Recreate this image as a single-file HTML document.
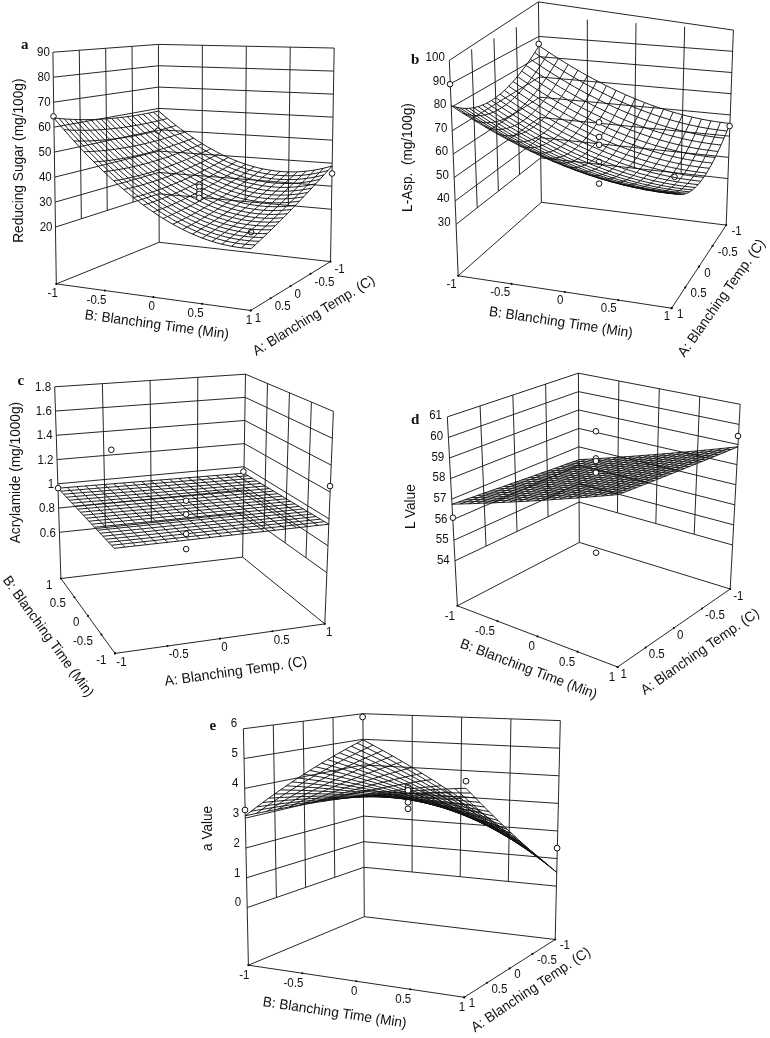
<!DOCTYPE html>
<html lang="en"><head><meta charset="utf-8"><title>Response surface plots</title>
<style>
html,body{margin:0;padding:0;background:#fff}
svg{display:block;will-change:transform}
.ln line,.ln polyline{stroke:#1a1a1a;stroke-width:.95;fill:none}
.ms polyline{stroke:#111;stroke-width:.95;fill:none}
.dt circle{fill:#111}
.pt circle{fill:#fff;stroke:#111;stroke-width:1}
text{font-family:"Liberation Sans",Arial,Helvetica,sans-serif;fill:#111}
.pn{font-family:"Liberation Serif","Times New Roman",serif;font-weight:bold;font-size:15px}
</style></head><body>
<svg width="770" height="1038" viewBox="0 0 770 1038">
<rect width="770" height="1038" fill="#fff"/>
<g id="plot-a">
<g class="ln"><line x1="56.3" y1="283.9" x2="52.9" y2="52.2"/><line x1="159.2" y1="242.3" x2="158.4" y2="44.4"/><line x1="330.5" y1="261.6" x2="334.2" y2="48.05"/><line x1="52.9" y1="52.2" x2="158.4" y2="44.4"/><line x1="158.4" y1="44.4" x2="334.2" y2="48.05"/><line x1="56.3" y1="283.9" x2="159.2" y2="242.3"/><line x1="159.2" y1="242.3" x2="330.5" y2="261.6"/><line x1="56.3" y1="283.9" x2="250.7" y2="310.5"/><line x1="250.7" y1="310.5" x2="330.5" y2="261.6"/><polyline points="55.47,227.1 159,193.79 331.41,209.25"/><polyline points="55.1,202.11 158.92,172.45 331.81,186.22"/><polyline points="54.73,177.13 158.83,151.1 332.21,163.19"/><polyline points="54.37,152.14 158.75,129.76 332.6,140.16"/><polyline points="54,127.16 158.66,108.42 333,117.14"/><polyline points="53.63,102.17 158.57,87.08 333.4,94.11"/><polyline points="53.27,77.19 158.49,65.74 333.8,71.08"/><line x1="81.35" y1="218.77" x2="79.28" y2="50.25"/><line x1="107.24" y1="210.44" x2="105.65" y2="48.3"/><line x1="133.12" y1="202.11" x2="132.03" y2="46.35"/><line x1="202.1" y1="197.65" x2="202.35" y2="45.31"/><line x1="245.21" y1="201.52" x2="246.3" y2="46.22"/><line x1="288.31" y1="205.38" x2="290.25" y2="47.14"/></g>
<g class="pt"><circle cx="53.5" cy="116.4" r="2.8"/><circle cx="158" cy="130.7" r="2.8"/><circle cx="332.1" cy="173.5" r="2.8"/><circle cx="251.1" cy="232.1" r="2.8"/></g>
<g class="ms"><polyline points="158.67,111.04 163.04,114.82 167.4,118.5 171.76,122.05 176.12,125.5 180.47,128.82 184.82,132.03 189.17,135.12 193.51,138.09 197.85,140.95 202.19,143.68 206.53,146.29 210.86,148.78 215.19,151.15 219.52,153.39 223.85,155.51 228.17,157.5 232.5,159.37 236.82,161.11 241.15,162.73 245.47,164.22 249.79,165.58 254.11,166.81 258.44,167.9 262.76,168.87 267.08,169.71 271.41,170.41 275.73,170.99 280.06,171.42 284.39,171.73 288.72,171.89 293.05,171.92 297.38,171.82 301.72,171.57 306.06,171.19 310.4,170.67 314.74,170.01 319.09,169.21 323.44,168.26 327.8,167.18 332.16,165.95"/><polyline points="158.67,111.04 156.05,111.6 153.44,112.15 150.82,112.68 148.21,113.2 145.59,113.7 142.98,114.17 140.36,114.63 137.75,115.08 135.13,115.5 132.51,115.9 129.9,116.29 127.28,116.65 124.66,116.99 122.05,117.32 119.43,117.62 116.81,117.91 114.19,118.17 111.58,118.41 108.96,118.63 106.34,118.83 103.72,119.01 101.1,119.16 98.48,119.29 95.86,119.41 93.24,119.49 90.62,119.56 88,119.6 85.37,119.62 82.75,119.62 80.13,119.59 77.51,119.54 74.88,119.46 72.26,119.36 69.63,119.23 67,119.08 64.38,118.91 61.75,118.71 59.12,118.48 56.49,118.23 53.86,117.95"/><polyline points="153.44,112.15 157.84,116.04 162.24,119.81 166.63,123.47 171.02,127.01 175.4,130.43 179.78,133.73 184.16,136.92 188.53,139.99 192.9,142.93 197.27,145.76 201.64,148.46 206,151.04 210.36,153.5 214.72,155.84 219.08,158.04 223.43,160.13 227.79,162.08 232.14,163.91 236.49,165.62 240.84,167.19 245.19,168.63 249.54,169.95 253.89,171.13 258.25,172.18 262.6,173.1 266.95,173.88 271.3,174.53 275.66,175.05 280.01,175.43 284.37,175.67 288.73,175.78 293.09,175.75 297.45,175.58 301.82,175.27 306.19,174.82 310.56,174.23 314.93,173.5 319.31,172.62 323.69,171.6 328.07,170.44"/><polyline points="167.4,118.5 164.82,119.16 162.24,119.81 159.65,120.44 157.07,121.06 154.49,121.65 151.9,122.23 149.32,122.79 146.74,123.34 144.15,123.86 141.57,124.37 138.98,124.86 136.4,125.32 133.82,125.77 131.23,126.2 128.65,126.61 126.06,127 123.48,127.37 120.89,127.72 118.31,128.04 115.72,128.35 113.13,128.63 110.55,128.9 107.96,129.14 105.37,129.36 102.79,129.56 100.2,129.73 97.61,129.89 95.02,130.02 92.43,130.12 89.84,130.21 87.25,130.27 84.66,130.3 82.07,130.31 79.48,130.3 76.89,130.27 74.3,130.2 71.7,130.12 69.11,130.01 66.51,129.87 63.92,129.71"/><polyline points="148.21,113.2 152.64,117.19 157.07,121.06 161.49,124.81 165.91,128.45 170.33,131.97 174.74,135.37 179.15,138.65 183.55,141.82 187.95,144.86 192.35,147.78 196.75,150.58 201.14,153.25 205.53,155.8 209.92,158.23 214.31,160.53 218.69,162.7 223.07,164.75 227.46,166.66 231.84,168.45 236.22,170.11 240.6,171.64 244.98,173.04 249.36,174.31 253.74,175.44 258.11,176.44 262.49,177.31 266.88,178.04 271.26,178.64 275.64,179.1 280.02,179.42 284.41,179.6 288.8,179.65 293.19,179.55 297.58,179.31 301.97,178.94 306.37,178.42 310.77,177.75 315.18,176.95 319.58,176 323.99,174.9"/><polyline points="176.12,125.5 173.57,126.26 171.02,127.01 168.47,127.74 165.91,128.45 163.36,129.15 160.81,129.83 158.26,130.49 155.71,131.13 153.15,131.76 150.6,132.36 148.05,132.95 145.5,133.52 142.95,134.08 140.39,134.61 137.84,135.12 135.29,135.62 132.74,136.09 130.18,136.54 127.63,136.98 125.08,137.39 122.52,137.78 119.97,138.15 117.42,138.5 114.86,138.83 112.31,139.14 109.75,139.42 107.2,139.68 104.64,139.92 102.09,140.14 99.53,140.33 96.97,140.5 94.42,140.65 91.86,140.78 89.3,140.88 86.74,140.95 84.18,141.01 81.62,141.03 79.06,141.04 76.5,141.01 73.94,140.97"/><polyline points="142.98,114.17 147.44,118.26 151.9,122.23 156.36,126.09 160.81,129.83 165.26,133.44 169.7,136.94 174.14,140.32 178.57,143.58 183.01,146.72 187.43,149.74 191.86,152.63 196.28,155.4 200.7,158.04 205.12,160.56 209.54,162.95 213.95,165.22 218.37,167.35 222.78,169.36 227.19,171.24 231.6,172.99 236,174.6 240.41,176.09 244.82,177.44 249.23,178.66 253.63,179.74 258.04,180.69 262.45,181.51 266.86,182.18 271.27,182.72 275.68,183.12 280.1,183.38 284.51,183.5 288.93,183.48 293.35,183.32 297.77,183.02 302.19,182.57 306.62,181.98 311.05,181.25 315.48,180.37 319.92,179.34"/><polyline points="184.82,132.03 182.3,132.89 179.78,133.73 177.26,134.56 174.74,135.37 172.22,136.17 169.7,136.94 167.18,137.71 164.66,138.45 162.14,139.17 159.62,139.88 157.1,140.57 154.58,141.25 152.06,141.9 149.54,142.53 147.02,143.15 144.5,143.75 141.98,144.32 139.45,144.88 136.93,145.42 134.41,145.94 131.89,146.44 129.37,146.91 126.85,147.37 124.33,147.8 121.8,148.22 119.28,148.61 116.76,148.98 114.24,149.33 111.71,149.66 109.19,149.96 106.67,150.24 104.14,150.5 101.62,150.74 99.09,150.95 96.57,151.14 94.04,151.3 91.51,151.44 88.99,151.56 86.46,151.65 83.93,151.72"/><polyline points="137.75,115.08 142.24,119.27 146.74,123.34 151.22,127.29 155.71,131.13 160.18,134.85 164.66,138.45 169.13,141.93 173.6,145.28 178.06,148.52 182.52,151.63 186.97,154.62 191.43,157.48 195.88,160.22 200.33,162.83 204.77,165.32 209.22,167.67 213.66,169.9 218.1,172 222.54,173.97 226.98,175.81 231.41,177.51 235.85,179.08 240.29,180.52 244.72,181.83 249.16,183 253.59,184.03 258.03,184.92 262.47,185.68 266.9,186.3 271.34,186.78 275.78,187.12 280.23,187.32 284.67,187.38 289.12,187.3 293.56,187.07 298.01,186.7 302.47,186.18 306.92,185.52 311.38,184.71 315.85,183.75"/><polyline points="193.51,138.09 191.02,139.05 188.53,139.99 186.04,140.91 183.55,141.82 181.06,142.71 178.57,143.58 176.08,144.44 173.6,145.28 171.11,146.11 168.62,146.92 166.13,147.71 163.64,148.48 161.15,149.23 158.66,149.97 156.17,150.69 153.68,151.39 151.19,152.07 148.71,152.73 146.22,153.37 143.73,153.99 141.24,154.59 138.75,155.18 136.26,155.74 133.77,156.28 131.28,156.8 128.79,157.3 126.3,157.78 123.81,158.23 121.32,158.67 118.83,159.08 116.33,159.47 113.84,159.84 111.35,160.19 108.86,160.51 106.37,160.81 103.87,161.08 101.38,161.34 98.89,161.57 96.39,161.77 93.9,161.95"/><polyline points="132.51,115.9 137.04,120.19 141.57,124.37 146.09,128.43 150.6,132.36 155.11,136.18 159.62,139.88 164.12,143.46 168.62,146.92 173.11,150.25 177.6,153.46 182.09,156.54 186.57,159.5 191.05,162.34 195.53,165.04 200.01,167.62 204.48,170.07 208.95,172.39 213.42,174.58 217.89,176.64 222.36,178.57 226.82,180.36 231.29,182.03 235.75,183.55 240.22,184.94 244.68,186.2 249.15,187.32 253.61,188.3 258.07,189.14 262.54,189.84 267.01,190.4 271.48,190.82 275.94,191.1 280.42,191.24 284.89,191.23 289.36,191.08 293.84,190.78 298.32,190.34 302.8,189.75 307.29,189.01 311.78,188.13"/><polyline points="202.19,143.68 199.73,144.73 197.27,145.76 194.81,146.78 192.35,147.78 189.89,148.77 187.43,149.74 184.98,150.69 182.52,151.63 180.06,152.55 177.6,153.46 175.14,154.35 172.68,155.22 170.23,156.07 167.77,156.91 165.31,157.73 162.85,158.53 160.4,159.31 157.94,160.07 155.48,160.82 153.02,161.54 150.56,162.25 148.11,162.93 145.65,163.6 143.19,164.25 140.73,164.87 138.27,165.48 135.82,166.06 133.36,166.63 130.9,167.17 128.44,167.69 125.98,168.19 123.52,168.66 121.06,169.12 118.6,169.55 116.14,169.96 113.68,170.35 111.22,170.71 108.76,171.05 106.3,171.37 103.83,171.66"/><polyline points="127.28,116.65 131.84,121.05 136.4,125.32 140.95,129.48 145.5,133.52 150.04,137.45 154.58,141.25 159.11,144.92 163.64,148.48 168.16,151.91 172.68,155.22 177.2,158.4 181.72,161.46 186.23,164.39 190.74,167.19 195.24,169.86 199.75,172.41 204.25,174.82 208.75,177.11 213.24,179.26 217.74,181.28 222.24,183.16 226.73,184.91 231.22,186.53 235.72,188.01 240.21,189.35 244.7,190.55 249.19,191.62 253.69,192.55 258.18,193.33 262.67,193.98 267.17,194.48 271.67,194.84 276.16,195.05 280.66,195.13 285.17,195.05 289.67,194.83 294.18,194.46 298.68,193.95 303.2,193.28 307.71,192.47"/><polyline points="210.86,148.78 208.43,149.92 206,151.04 203.57,152.15 201.14,153.25 198.71,154.33 196.28,155.4 193.86,156.45 191.43,157.48 189,158.5 186.57,159.5 184.14,160.49 181.72,161.46 179.29,162.41 176.86,163.35 174.44,164.26 172.01,165.16 169.58,166.05 167.15,166.91 164.73,167.76 162.3,168.58 159.87,169.39 157.45,170.18 155.02,170.95 152.59,171.7 150.17,172.43 147.74,173.14 145.31,173.83 142.89,174.5 140.46,175.15 138.03,175.77 135.6,176.38 133.18,176.96 130.75,177.53 128.32,178.07 125.89,178.59 123.46,179.08 121.04,179.55 118.61,180 116.18,180.43 113.75,180.84"/><polyline points="122.05,117.32 126.64,121.82 131.23,126.2 135.82,130.46 140.39,134.61 144.97,138.63 149.54,142.53 154.1,146.31 158.66,149.97 163.22,153.5 167.77,156.91 172.32,160.19 176.86,163.35 181.4,166.37 185.94,169.27 190.48,172.04 195.01,174.68 199.54,177.19 204.07,179.57 208.6,181.81 213.12,183.92 217.65,185.9 222.17,187.74 226.69,189.45 231.22,191.02 235.74,192.45 240.26,193.74 244.78,194.89 249.3,195.9 253.82,196.77 258.34,197.5 262.87,198.09 267.39,198.53 271.91,198.83 276.44,198.98 280.97,198.98 285.5,198.84 290.03,198.55 294.57,198.11 299.11,197.52 303.65,196.78"/><polyline points="219.52,153.39 217.12,154.62 214.72,155.84 212.32,157.04 209.92,158.23 207.52,159.4 205.12,160.56 202.72,161.7 200.33,162.83 197.93,163.95 195.53,165.04 193.13,166.13 190.74,167.19 188.34,168.24 185.94,169.27 183.55,170.29 181.15,171.29 178.75,172.27 176.36,173.23 173.96,174.18 171.57,175.1 169.17,176.01 166.77,176.9 164.38,177.78 161.98,178.63 159.59,179.46 157.19,180.27 154.79,181.07 152.4,181.84 150,182.6 147.61,183.33 145.21,184.04 142.81,184.73 140.42,185.4 138.02,186.05 135.63,186.67 133.23,187.28 130.83,187.86 128.43,188.42 126.04,188.96 123.64,189.47"/><polyline points="116.81,117.91 121.44,122.51 126.06,127 130.68,131.37 135.29,135.62 139.9,139.74 144.5,143.75 149.09,147.63 153.68,151.39 158.27,155.02 162.85,158.53 167.43,161.91 172.01,165.16 176.58,168.29 181.15,171.29 185.72,174.15 190.28,176.89 194.84,179.5 199.4,181.97 203.96,184.31 208.51,186.51 213.06,188.58 217.62,190.51 222.17,192.31 226.72,193.97 231.27,195.49 235.82,196.87 240.37,198.11 244.91,199.21 249.46,200.16 254.01,200.98 258.56,201.65 263.12,202.17 267.67,202.55 272.22,202.78 276.78,202.87 281.34,202.81 285.9,202.59 290.46,202.23 295.02,201.72 299.59,201.05"/><polyline points="228.17,157.5 225.8,158.82 223.43,160.13 221.06,161.42 218.69,162.7 216.32,163.96 213.95,165.22 211.58,166.45 209.22,167.67 206.85,168.88 204.48,170.07 202.11,171.25 199.75,172.41 197.38,173.55 195.01,174.68 192.65,175.8 190.28,176.89 187.91,177.97 185.55,179.03 183.18,180.08 180.82,181.1 178.45,182.11 176.09,183.1 173.72,184.07 171.35,185.03 168.99,185.96 166.62,186.88 164.26,187.77 161.89,188.65 159.53,189.51 157.16,190.34 154.8,191.16 152.43,191.96 150.07,192.73 147.7,193.49 145.34,194.22 142.97,194.93 140.61,195.62 138.24,196.29 135.88,196.93 133.51,197.55"/><polyline points="111.58,118.41 116.24,123.12 120.89,127.72 125.54,132.19 130.18,136.54 134.82,140.77 139.45,144.88 144.08,148.87 148.71,152.73 153.32,156.46 157.94,160.07 162.55,163.56 167.15,166.91 171.76,170.14 176.36,173.23 180.95,176.2 185.55,179.03 190.14,181.73 194.73,184.3 199.31,186.73 203.9,189.03 208.48,191.2 213.06,193.22 217.64,195.11 222.22,196.86 226.8,198.47 231.38,199.94 235.95,201.27 240.53,202.46 245.11,203.5 249.69,204.4 254.27,205.16 258.84,205.77 263.43,206.23 268.01,206.54 272.59,206.71 277.17,206.73 281.76,206.59 286.35,206.31 290.94,205.87 295.54,205.28"/><polyline points="236.82,161.11 234.48,162.52 232.14,163.91 229.8,165.3 227.46,166.66 225.12,168.02 222.78,169.36 220.44,170.69 218.1,172 215.76,173.3 213.42,174.58 211.08,175.85 208.75,177.11 206.41,178.35 204.07,179.57 201.74,180.78 199.4,181.97 197.06,183.14 194.73,184.3 192.39,185.44 190.06,186.57 187.72,187.67 185.39,188.76 183.05,189.83 180.72,190.89 178.38,191.92 176.05,192.94 173.71,193.94 171.38,194.92 169.04,195.88 166.71,196.82 164.37,197.73 162.04,198.63 159.71,199.51 157.37,200.37 155.04,201.21 152.7,202.03 150.37,202.82 148.03,203.6 145.7,204.35 143.36,205.08"/><polyline points="106.34,118.83 111.03,123.65 115.72,128.35 120.4,132.93 125.08,137.39 129.75,141.72 134.41,145.94 139.07,150.03 143.73,153.99 148.38,157.83 153.02,161.54 157.66,165.13 162.3,168.58 166.93,171.91 171.57,175.1 176.19,178.17 180.82,181.1 185.44,183.9 190.06,186.57 194.67,189.1 199.29,191.49 203.9,193.75 208.51,195.87 213.12,197.85 217.73,199.69 222.33,201.4 226.94,202.96 231.55,204.38 236.15,205.65 240.76,206.78 245.36,207.77 249.97,208.61 254.58,209.31 259.18,209.85 263.79,210.25 268.4,210.5 273.02,210.6 277.63,210.55 282.25,210.34 286.86,209.99 291.48,209.48"/><polyline points="245.47,164.22 243.15,165.71 240.84,167.19 238.53,168.66 236.22,170.11 233.91,171.56 231.6,172.99 229.29,174.4 226.98,175.81 224.67,177.2 222.36,178.57 220.05,179.93 217.74,181.28 215.43,182.61 213.12,183.92 210.82,185.23 208.51,186.51 206.2,187.78 203.9,189.03 201.59,190.27 199.29,191.49 196.98,192.7 194.68,193.88 192.37,195.05 190.07,196.2 187.76,197.34 185.46,198.45 183.15,199.55 180.85,200.63 178.54,201.69 176.24,202.73 173.94,203.75 171.63,204.76 169.33,205.74 167.02,206.7 164.72,207.64 162.42,208.56 160.11,209.47 157.81,210.35 155.5,211.2 153.2,212.04"/><polyline points="101.1,119.16 105.83,124.09 110.55,128.9 115.26,133.59 119.97,138.15 124.67,142.59 129.37,146.91 134.06,151.11 138.75,155.18 143.43,159.12 148.11,162.93 152.78,166.62 157.45,170.18 162.11,173.61 166.77,176.9 171.43,180.07 176.09,183.1 180.74,186 185.39,188.76 190.03,191.39 194.68,193.88 199.32,196.24 203.96,198.45 208.6,200.53 213.23,202.46 217.87,204.26 222.5,205.91 227.14,207.42 231.77,208.79 236.41,210.01 241.04,211.09 245.67,212.01 250.31,212.8 254.95,213.43 259.58,213.91 264.22,214.24 268.86,214.43 273.5,214.46 278.14,214.33 282.79,214.05 287.44,213.62"/><polyline points="254.11,166.81 251.83,168.38 249.54,169.95 247.26,171.5 244.98,173.04 242.69,174.57 240.41,176.09 238.13,177.59 235.85,179.08 233.57,180.56 231.29,182.03 229.01,183.48 226.73,184.91 224.45,186.33 222.17,187.74 219.89,189.14 217.62,190.51 215.34,191.88 213.06,193.22 210.79,194.55 208.51,195.87 206.23,197.17 203.96,198.45 201.68,199.72 199.41,200.97 197.13,202.2 194.86,203.41 192.58,204.61 190.31,205.79 188.03,206.95 185.76,208.09 183.49,209.21 181.21,210.31 178.94,211.4 176.66,212.46 174.39,213.51 172.12,214.53 169.84,215.54 167.57,216.52 165.3,217.48 163.02,218.42"/><polyline points="95.86,119.41 100.62,124.44 105.37,129.36 110.12,134.16 114.86,138.83 119.6,143.38 124.33,147.8 129.05,152.11 133.77,156.28 138.48,160.33 143.19,164.25 147.89,168.04 152.59,171.7 157.29,175.23 161.98,178.63 166.67,181.89 171.35,185.03 176.04,188.03 180.72,190.89 185.39,193.61 190.07,196.2 194.74,198.65 199.41,200.97 204.07,203.14 208.74,205.17 213.41,207.06 218.07,208.8 222.73,210.41 227.4,211.86 232.06,213.18 236.72,214.34 241.38,215.36 246.05,216.23 250.71,216.95 255.37,217.52 260.04,217.93 264.71,218.2 269.37,218.31 274.04,218.27 278.72,218.08 283.39,217.72"/><polyline points="262.76,168.87 260.5,170.53 258.25,172.18 255.99,173.82 253.74,175.44 251.48,177.06 249.23,178.66 246.97,180.25 244.72,181.83 242.47,183.39 240.22,184.94 237.97,186.48 235.72,188.01 233.47,189.52 231.22,191.02 228.97,192.5 226.72,193.97 224.47,195.42 222.22,196.86 219.97,198.29 217.73,199.69 215.48,201.09 213.23,202.46 210.99,203.83 208.74,205.17 206.49,206.5 204.25,207.81 202,209.1 199.76,210.38 197.51,211.63 195.27,212.87 193.03,214.1 190.78,215.3 188.54,216.48 186.29,217.65 184.05,218.79 181.81,219.92 179.56,221.03 177.32,222.11 175.08,223.18 172.83,224.23"/><polyline points="90.62,119.56 95.41,124.71 100.2,129.73 104.98,134.64 109.75,139.42 114.52,144.08 119.28,148.61 124.04,153.02 128.79,157.3 133.53,161.45 138.27,165.48 143.01,169.37 147.74,173.14 152.47,176.77 157.19,180.27 161.91,183.64 166.62,186.88 171.34,189.98 176.05,192.94 180.75,195.77 185.46,198.45 190.16,201 194.86,203.41 199.55,205.68 204.25,207.81 208.94,209.79 213.64,211.63 218.33,213.33 223.02,214.88 227.71,216.28 232.4,217.54 237.09,218.64 241.78,219.6 246.47,220.41 251.17,221.07 255.86,221.57 260.55,221.92 265.25,222.12 269.95,222.16 274.65,222.05 279.35,221.78"/><polyline points="271.41,170.41 269.18,172.15 266.95,173.88 264.72,175.6 262.49,177.31 260.27,179.01 258.04,180.69 255.82,182.37 253.59,184.03 251.37,185.68 249.15,187.32 246.92,188.94 244.7,190.55 242.48,192.15 240.26,193.74 238.04,195.31 235.82,196.87 233.6,198.41 231.38,199.94 229.16,201.46 226.94,202.96 224.72,204.44 222.5,205.91 220.29,207.37 218.07,208.8 215.85,210.23 213.64,211.63 211.42,213.02 209.2,214.39 206.99,215.75 204.77,217.08 202.56,218.4 200.34,219.7 198.13,220.99 195.92,222.25 193.7,223.5 191.49,224.72 189.27,225.93 187.06,227.12 184.85,228.29 182.63,229.43"/><polyline points="85.37,119.62 90.2,124.88 95.02,130.02 99.84,135.03 104.64,139.92 109.44,144.69 114.24,149.33 119.02,153.85 123.81,158.23 128.58,162.49 133.36,166.63 138.12,170.63 142.89,174.5 147.64,178.24 152.4,181.84 157.15,185.31 161.89,188.65 166.64,191.85 171.38,194.92 176.11,197.84 180.85,200.63 185.58,203.28 190.31,205.79 195.03,208.15 199.76,210.38 204.48,212.46 209.2,214.39 213.93,216.18 218.65,217.82 223.37,219.32 228.08,220.67 232.8,221.87 237.52,222.92 242.24,223.81 246.96,224.56 251.68,225.15 256.4,225.59 261.13,225.87 265.85,226 270.58,225.97 275.31,225.78"/><polyline points="280.06,171.42 277.86,173.24 275.66,175.05 273.46,176.85 271.26,178.64 269.06,180.41 266.86,182.18 264.66,183.94 262.47,185.68 260.27,187.42 258.07,189.14 255.88,190.85 253.69,192.55 251.49,194.23 249.3,195.9 247.11,197.56 244.91,199.21 242.72,200.84 240.53,202.46 238.34,204.06 236.15,205.65 233.96,207.23 231.77,208.79 229.58,210.33 227.4,211.86 225.21,213.38 223.02,214.88 220.83,216.36 218.65,217.82 216.46,219.27 214.27,220.71 212.09,222.12 209.9,223.52 207.72,224.9 205.53,226.26 203.35,227.61 201.16,228.93 198.98,230.24 196.79,231.53 194.61,232.79 192.43,234.04"/><polyline points="80.13,119.59 84.99,124.96 89.84,130.21 94.69,135.33 99.53,140.33 104.36,145.21 109.19,149.96 114.01,154.59 118.83,159.08 123.63,163.45 128.44,167.69 133.24,171.8 138.03,175.77 142.82,179.62 147.61,183.33 152.39,186.9 157.16,190.34 161.94,193.65 166.71,196.82 171.48,199.84 176.24,202.73 181,205.48 185.76,208.09 190.52,210.55 195.27,212.87 200.02,215.05 204.77,217.08 209.52,218.97 214.27,220.71 219.02,222.3 223.77,223.74 228.52,225.03 233.26,226.17 238.01,227.16 242.76,227.99 247.51,228.67 252.26,229.2 257.01,229.57 261.76,229.78 266.51,229.83 271.27,229.73"/><polyline points="288.72,171.89 286.54,173.79 284.37,175.67 282.2,177.55 280.02,179.42 277.85,181.27 275.68,183.12 273.51,184.96 271.34,186.78 269.18,188.6 267.01,190.4 264.84,192.2 262.67,193.98 260.51,195.75 258.34,197.5 256.18,199.25 254.01,200.98 251.85,202.7 249.69,204.4 247.52,206.09 245.36,207.77 243.2,209.44 241.04,211.09 238.88,212.72 236.72,214.34 234.56,215.95 232.4,217.54 230.24,219.11 228.08,220.67 225.93,222.21 223.77,223.74 221.61,225.25 219.46,226.74 217.3,228.22 215.14,229.67 212.99,231.11 210.83,232.54 208.68,233.94 206.52,235.33 204.37,236.69 202.21,238.04"/><polyline points="74.88,119.46 79.78,124.94 84.66,130.3 89.54,135.54 94.42,140.65 99.28,145.64 104.14,150.5 108.99,155.24 113.84,159.84 118.68,164.32 123.52,168.66 128.35,172.88 133.18,176.96 138,180.91 142.81,184.73 147.63,188.41 152.43,191.96 157.24,195.36 162.04,198.63 166.84,201.77 171.63,204.76 176.42,207.61 181.21,210.31 186,212.88 190.78,215.3 195.56,217.57 200.34,219.7 205.12,221.69 209.9,223.52 214.68,225.2 219.46,226.74 224.23,228.12 229.01,229.36 233.78,230.44 238.56,231.36 243.33,232.13 248.11,232.75 252.89,233.2 257.67,233.5 262.45,233.64 267.23,233.62"/><polyline points="297.38,171.82 295.24,173.79 293.09,175.75 290.94,177.7 288.8,179.65 286.65,181.58 284.51,183.5 282.37,185.42 280.23,187.32 278.08,189.22 275.94,191.1 273.8,192.98 271.67,194.84 269.53,196.69 267.39,198.53 265.25,200.36 263.12,202.17 260.98,203.97 258.84,205.77 256.71,207.54 254.58,209.31 252.44,211.06 250.31,212.8 248.18,214.52 246.05,216.23 243.91,217.92 241.78,219.6 239.65,221.27 237.52,222.92 235.39,224.55 233.26,226.17 231.14,227.77 229.01,229.36 226.88,230.93 224.75,232.48 222.62,234.01 220.5,235.53 218.37,237.03 216.24,238.51 214.12,239.98 211.99,241.42"/><polyline points="69.63,119.23 74.56,124.83 79.48,130.3 84.39,135.65 89.3,140.88 94.2,145.98 99.09,150.95 103.98,155.79 108.86,160.51 113.73,165.1 118.6,169.55 123.46,173.88 128.32,178.07 133.17,182.13 138.02,186.05 142.87,189.84 147.7,193.49 152.54,197 157.37,200.37 162.2,203.61 167.02,206.7 171.85,209.65 176.66,212.46 181.48,215.13 186.29,217.65 191.11,220.02 195.92,222.25 200.72,224.33 205.53,226.26 210.34,228.04 215.14,229.67 219.95,231.15 224.75,232.48 229.56,233.65 234.36,234.67 239.16,235.53 243.97,236.23 248.78,236.78 253.58,237.17 258.39,237.39 263.2,237.46"/><polyline points="306.06,171.19 303.94,173.23 301.82,175.27 299.7,177.3 297.58,179.31 295.46,181.32 293.35,183.32 291.23,185.32 289.12,187.3 287,189.27 284.89,191.23 282.78,193.18 280.66,195.13 278.55,197.06 276.44,198.98 274.33,200.89 272.22,202.78 270.11,204.67 268.01,206.54 265.9,208.4 263.79,210.25 261.69,212.09 259.58,213.91 257.48,215.72 255.37,217.52 253.27,219.3 251.17,221.07 249.06,222.82 246.96,224.56 244.86,226.28 242.76,227.99 240.66,229.68 238.56,231.36 236.46,233.02 234.36,234.67 232.26,236.3 230.16,237.91 228.06,239.5 225.97,241.08 223.87,242.64 221.77,244.18"/><polyline points="64.38,118.91 69.34,124.62 74.3,130.2 79.24,135.67 84.18,141.01 89.11,146.22 94.04,151.3 98.96,156.26 103.87,161.08 108.78,165.78 113.68,170.35 118.57,174.78 123.46,179.08 128.35,183.25 133.23,187.28 138.1,191.17 142.97,194.93 147.84,198.55 152.7,202.03 157.56,205.37 162.42,208.56 167.27,211.62 172.12,214.53 176.96,217.3 181.81,219.92 186.65,222.4 191.49,224.72 196.33,226.9 201.16,228.93 206,230.81 210.83,232.54 215.66,234.11 220.5,235.53 225.33,236.8 230.16,237.91 234.99,238.86 239.83,239.66 244.66,240.29 249.5,240.77 254.33,241.08 259.17,241.24"/><polyline points="314.74,170.01 312.65,172.12 310.56,174.23 308.46,176.33 306.37,178.42 304.28,180.5 302.19,182.57 300.1,184.64 298.01,186.7 295.93,188.74 293.84,190.78 291.75,192.81 289.67,194.83 287.59,196.84 285.5,198.84 283.42,200.83 281.34,202.81 279.26,204.77 277.17,206.73 275.09,208.67 273.02,210.6 270.94,212.52 268.86,214.43 266.78,216.32 264.71,218.2 262.63,220.07 260.55,221.92 258.48,223.76 256.4,225.59 254.33,227.4 252.26,229.2 250.18,230.98 248.11,232.75 246.04,234.5 243.97,236.23 241.9,237.95 239.83,239.66 237.76,241.34 235.69,243.01 233.62,244.67 231.55,246.3"/><polyline points="59.12,118.48 64.12,124.31 69.11,130.01 74.09,135.58 79.06,141.04 84.03,146.36 88.99,151.56 93.94,156.63 98.89,161.57 103.82,166.37 108.76,171.05 113.68,175.59 118.61,180 123.52,184.28 128.43,188.42 133.34,192.42 138.24,196.29 143.14,200.01 148.03,203.6 152.92,207.04 157.81,210.35 162.69,213.5 167.57,216.52 172.45,219.39 177.32,222.11 182.19,224.69 187.06,227.12 191.93,229.4 196.79,231.53 201.66,233.5 206.52,235.33 211.38,237 216.24,238.51 221.11,239.87 225.97,241.08 230.83,242.13 235.69,243.01 240.55,243.74 245.41,244.31 250.28,244.71 255.14,244.96"/><polyline points="323.44,168.26 321.38,170.45 319.31,172.62 317.24,174.79 315.18,176.95 313.11,179.1 311.05,181.25 308.99,183.39 306.92,185.52 304.86,187.64 302.8,189.75 300.74,191.85 298.68,193.95 296.63,196.03 294.57,198.11 292.51,200.18 290.46,202.23 288.4,204.28 286.35,206.31 284.3,208.33 282.25,210.34 280.19,212.34 278.14,214.33 276.09,216.31 274.04,218.27 271.99,220.22 269.95,222.16 267.9,224.09 265.85,226 263.81,227.89 261.76,229.78 259.71,231.65 257.67,233.5 255.63,235.34 253.58,237.17 251.54,238.98 249.5,240.77 247.45,242.55 245.41,244.31 243.37,246.05 241.33,247.78"/><polyline points="53.86,117.95 58.9,123.89 63.92,129.71 68.93,135.4 73.94,140.97 78.94,146.41 83.93,151.72 88.92,156.9 93.9,161.95 98.87,166.87 103.83,171.66 108.79,176.31 113.75,180.84 118.7,185.22 123.64,189.47 128.58,193.58 133.51,197.55 138.44,201.39 143.36,205.08 148.28,208.63 153.2,212.04 158.11,215.3 163.02,218.42 167.93,221.4 172.83,224.23 177.74,226.9 182.63,229.43 187.53,231.81 192.43,234.04 197.32,236.12 202.21,238.04 207.1,239.81 211.99,241.42 216.88,242.88 221.77,244.18 226.66,245.32 231.55,246.3 236.44,247.12 241.33,247.78 246.22,248.28 251.11,248.61"/><polyline points="332.16,165.95 330.11,168.2 328.07,170.44 326.03,172.67 323.99,174.9 321.95,177.12 319.92,179.34 317.88,181.55 315.85,183.75 313.81,185.94 311.78,188.13 309.74,190.3 307.71,192.47 305.68,194.63 303.65,196.78 301.62,198.92 299.59,201.05 297.56,203.17 295.54,205.28 293.51,207.39 291.48,209.48 289.46,211.55 287.44,213.62 285.41,215.68 283.39,217.72 281.37,219.76 279.35,221.78 277.33,223.78 275.31,225.78 273.29,227.76 271.27,229.73 269.25,231.68 267.23,233.62 265.22,235.55 263.2,237.46 261.18,239.36 259.17,241.24 257.15,243.11 255.14,244.96 253.13,246.79 251.11,248.61"/></g>
<g class="dt"><circle cx="56.3" cy="283.9" r="1.1"/><circle cx="330.5" cy="261.6" r="1.1"/><circle cx="104.9" cy="290.55" r="1.1"/><circle cx="310.55" cy="273.83" r="1.1"/><circle cx="153.5" cy="297.2" r="1.1"/><circle cx="290.6" cy="286.05" r="1.1"/><circle cx="202.1" cy="303.85" r="1.1"/><circle cx="270.65" cy="298.27" r="1.1"/><circle cx="250.7" cy="310.5" r="1.1"/><circle cx="250.7" cy="310.5" r="1.1"/></g>
<g class="pt"><circle cx="199.3" cy="184.6" r="2.8"/><circle cx="199.3" cy="186.8" r="2.8"/><circle cx="199.3" cy="191.5" r="2.8"/><circle cx="199.3" cy="194" r="2.8"/><circle cx="199.3" cy="197.8" r="2.8"/></g>
<g class="tk" font-size="11.3"><text transform="translate(49.9 56.47) scale(1.02 1.05)" text-anchor="end">90</text><text transform="translate(50.27 81.47) scale(1.02 1.05)" text-anchor="end">80</text><text transform="translate(50.63 106.47) scale(1.02 1.05)" text-anchor="end">70</text><text transform="translate(51 131.47) scale(1.02 1.05)" text-anchor="end">60</text><text transform="translate(51.37 156.47) scale(1.02 1.05)" text-anchor="end">50</text><text transform="translate(51.73 181.47) scale(1.02 1.05)" text-anchor="end">40</text><text transform="translate(52.1 206.47) scale(1.02 1.05)" text-anchor="end">30</text><text transform="translate(52.47 231.47) scale(1.02 1.05)" text-anchor="end">20</text><text transform="translate(57.8 297.17) scale(1.02 1.05)" text-anchor="end">-1</text><text transform="translate(334.5 273.47) scale(1.02 1.05)" text-anchor="start">-1</text><text transform="translate(106.4 303.82) scale(1.02 1.05)" text-anchor="end">-0.5</text><text transform="translate(314.55 285.7) scale(1.02 1.05)" text-anchor="start">-0.5</text><text transform="translate(155 310.47) scale(1.02 1.05)" text-anchor="end">0</text><text transform="translate(294.6 297.92) scale(1.02 1.05)" text-anchor="start">0</text><text transform="translate(203.6 317.12) scale(1.02 1.05)" text-anchor="end">0.5</text><text transform="translate(274.65 310.15) scale(1.02 1.05)" text-anchor="start">0.5</text><text transform="translate(252.2 323.77) scale(1.02 1.05)" text-anchor="end">1</text><text transform="translate(254.7 322.37) scale(1.02 1.05)" text-anchor="start">1</text></g>
<g class="tt"><text transform="translate(22.8 160.7) rotate(-90) scale(1 1.03)" text-anchor="middle" font-size="13.7">Reducing Sugar (mg/100g)</text><text transform="translate(156.25 328.85) rotate(7.84) scale(1 1.03)" text-anchor="middle" font-size="13.7">B: Blanching Time (Min)</text><text transform="translate(316 319.2) rotate(-31.5) scale(1 1.03)" text-anchor="middle" font-size="13.7">A: Blanching Temp. (C)</text></g>
<text class="pn" x="21" y="49.3">a</text>
</g>
<g id="plot-b">
<g class="ln"><line x1="458.2" y1="275.8" x2="449.3" y2="60.4"/><line x1="541.35" y1="202.3" x2="538.4" y2="1.9"/><line x1="726.2" y1="225.1" x2="733.4" y2="30.1"/><line x1="449.3" y1="60.4" x2="538.4" y2="1.9"/><line x1="538.4" y1="1.9" x2="733.4" y2="30.1"/><line x1="458.2" y1="275.8" x2="541.35" y2="202.3"/><line x1="541.35" y1="202.3" x2="726.2" y2="225.1"/><line x1="458.2" y1="275.8" x2="671.6" y2="308.2"/><line x1="671.6" y1="308.2" x2="726.2" y2="225.1"/><polyline points="456.08,224.4 540.69,157.89 727.92,178.57"/><polyline points="455.11,200.97 540.39,137.65 728.7,157.36"/><polyline points="454.14,177.54 540.1,117.41 729.48,136.15"/><polyline points="453.17,154.11 539.8,97.17 730.27,114.94"/><polyline points="452.2,130.69 539.5,76.93 731.05,93.73"/><polyline points="451.24,107.26 539.2,56.68 731.83,72.52"/><polyline points="450.27,83.83 538.9,36.44 732.62,51.31"/><line x1="477.23" y1="207.77" x2="471.62" y2="49.35"/><line x1="498.39" y1="191.15" x2="493.95" y2="38.3"/><line x1="519.54" y1="174.52" x2="516.28" y2="27.25"/><line x1="587.5" y1="163.06" x2="587.3" y2="19.67"/><line x1="634.31" y1="168.23" x2="636" y2="23.15"/><line x1="681.11" y1="173.4" x2="684.7" y2="26.62"/></g>
<g class="pt"><circle cx="674.5" cy="176.8" r="2.8"/><circle cx="599.1" cy="161.8" r="2.8"/></g>
<g class="ms"><polyline points="539.04,45.75 543.91,49.05 548.77,52.28 553.62,55.44 558.46,58.54 563.3,61.56 568.13,64.53 572.95,67.42 577.77,70.25 582.58,73.01 587.38,75.7 592.17,78.32 596.96,80.87 601.75,83.36 606.53,85.77 611.3,88.12 616.07,90.4 620.84,92.6 625.6,94.74 630.36,96.8 635.12,98.8 639.87,100.72 644.62,102.57 649.36,104.36 654.11,106.06 658.85,107.7 663.59,109.27 668.33,110.76 673.07,112.18 677.81,113.52 682.54,114.79 687.28,115.99 692.02,117.12 696.76,118.17 701.49,119.14 706.23,120.05 710.97,120.87 715.72,121.62 720.46,122.3 725.21,122.9 729.95,123.42"/><polyline points="539.04,45.75 536.86,49.23 534.69,52.63 532.52,55.94 530.36,59.15 528.19,62.28 526.02,65.32 523.86,68.26 521.7,71.12 519.53,73.87 517.37,76.53 515.2,79.1 513.04,81.56 510.87,83.92 508.71,86.19 506.54,88.35 504.37,90.41 502.2,92.36 500.02,94.21 497.85,95.95 495.67,97.58 493.49,99.11 491.3,100.52 489.12,101.82 486.93,103 484.73,104.08 482.53,105.03 480.33,105.88 478.12,106.6 475.91,107.2 473.69,107.68 471.47,108.04 469.24,108.28 467,108.4 464.76,108.39 462.51,108.25 460.26,107.98 458,107.59 455.73,107.06 453.45,106.41 451.17,105.62"/><polyline points="534.69,52.63 539.6,55.95 544.49,59.21 549.38,62.4 554.26,65.52 559.13,68.57 564,71.56 568.86,74.48 573.71,77.33 578.55,80.12 583.39,82.83 588.22,85.48 593.04,88.05 597.86,90.56 602.67,92.99 607.48,95.36 612.29,97.66 617.09,99.88 621.88,102.04 626.67,104.12 631.46,106.14 636.25,108.08 641.03,109.95 645.81,111.74 650.59,113.47 655.36,115.12 660.14,116.7 664.91,118.2 669.68,119.64 674.45,120.99 679.22,122.28 683.99,123.49 688.76,124.63 693.53,125.69 698.3,126.67 703.07,127.58 707.84,128.42 712.61,129.18 717.39,129.86 722.17,130.47 726.95,130.99"/><polyline points="548.77,52.28 546.63,55.79 544.49,59.21 542.36,62.54 540.23,65.79 538.1,68.94 535.97,72.01 533.84,74.98 531.72,77.85 529.59,80.64 527.46,83.32 525.34,85.91 523.21,88.4 521.08,90.79 518.96,93.08 516.83,95.26 514.7,97.34 512.57,99.32 510.43,101.19 508.3,102.96 506.16,104.61 504.02,106.15 501.87,107.59 499.73,108.91 497.58,110.12 495.43,111.21 493.27,112.19 491.11,113.05 488.94,113.79 486.77,114.41 484.6,114.91 482.42,115.29 480.23,115.55 478.04,115.68 475.84,115.68 473.64,115.56 471.43,115.31 469.21,114.93 466.99,114.42 464.76,113.78 462.52,113.01"/><polyline points="530.36,59.15 535.3,62.5 540.23,65.79 545.15,69 550.07,72.15 554.98,75.23 559.88,78.24 564.77,81.19 569.65,84.06 574.53,86.87 579.41,89.61 584.27,92.28 589.13,94.87 593.98,97.4 598.83,99.86 603.68,102.25 608.51,104.56 613.35,106.81 618.18,108.98 623,111.08 627.83,113.11 632.64,115.07 637.46,116.96 642.27,118.77 647.08,120.51 651.89,122.18 656.7,123.77 661.5,125.29 666.31,126.73 671.11,128.1 675.91,129.4 680.72,130.62 685.52,131.77 690.32,132.84 695.12,133.83 699.93,134.75 704.73,135.59 709.54,136.36 714.34,137.05 719.15,137.66 723.97,138.2"/><polyline points="558.46,58.54 556.36,62.07 554.26,65.52 552.17,68.88 550.07,72.15 547.98,75.33 545.88,78.42 543.79,81.42 541.7,84.32 539.61,87.13 537.53,89.84 535.44,92.45 533.35,94.96 531.26,97.38 529.17,99.69 527.08,101.9 524.99,104 522.9,106 520.8,107.89 518.71,109.68 516.61,111.35 514.51,112.92 512.4,114.37 510.3,115.71 508.19,116.94 506.08,118.05 503.96,119.05 501.84,119.93 499.72,120.69 497.59,121.33 495.46,121.85 493.32,122.24 491.18,122.52 489.03,122.66 486.88,122.69 484.72,122.58 482.56,122.34 480.39,121.98 478.21,121.48 476.03,120.85 473.84,120.09"/><polyline points="526.02,65.32 531,68.7 535.97,72.01 540.93,75.25 545.88,78.42 550.83,81.53 555.76,84.56 560.69,87.53 565.61,90.43 570.53,93.26 575.43,96.02 580.33,98.71 585.23,101.33 590.12,103.88 595,106.36 599.88,108.76 604.75,111.1 609.62,113.36 614.49,115.55 619.35,117.67 624.2,119.72 629.06,121.69 633.91,123.6 638.75,125.42 643.6,127.18 648.44,128.86 653.28,130.47 658.12,132 662.96,133.45 667.79,134.84 672.63,136.14 677.46,137.38 682.3,138.53 687.13,139.61 691.97,140.62 696.8,141.54 701.64,142.39 706.48,143.17 711.32,143.86 716.16,144.48 721.01,145.02"/><polyline points="568.13,64.53 566.06,68.09 564,71.56 561.94,74.95 559.88,78.24 557.82,81.45 555.76,84.56 553.71,87.59 551.66,90.51 549.6,93.34 547.55,96.08 545.5,98.71 543.45,101.25 541.4,103.68 539.35,106.02 537.3,108.25 535.24,110.37 533.19,112.39 531.13,114.31 529.08,116.11 527.02,117.81 524.96,119.39 522.9,120.87 520.83,122.23 518.76,123.48 516.69,124.61 514.62,125.62 512.54,126.52 510.46,127.29 508.38,127.95 506.29,128.49 504.19,128.9 502.09,129.19 499.99,129.35 497.88,129.38 495.77,129.29 493.65,129.07 491.52,128.72 489.39,128.24 487.25,127.62 485.1,126.87"/><polyline points="521.7,71.12 526.71,74.52 531.72,77.85 536.71,81.12 541.7,84.32 546.68,87.45 551.66,90.51 556.62,93.5 561.58,96.42 566.53,99.28 571.47,102.06 576.41,104.77 581.34,107.41 586.26,109.98 591.18,112.47 596.09,114.9 601,117.25 605.91,119.54 610.81,121.75 615.7,123.88 620.59,125.95 625.48,127.94 630.36,129.85 635.25,131.7 640.12,133.46 645,135.16 649.88,136.78 654.75,138.32 659.62,139.79 664.49,141.19 669.36,142.5 674.23,143.75 679.1,144.91 683.97,146 688.83,147.01 693.7,147.95 698.57,148.8 703.45,149.58 708.32,150.28 713.19,150.91 718.07,151.45"/><polyline points="577.77,70.25 575.74,73.83 573.71,77.33 571.68,80.74 569.65,84.06 567.63,87.29 565.61,90.43 563.59,93.47 561.58,96.42 559.56,99.28 557.55,102.03 555.53,104.69 553.52,107.25 551.51,109.71 549.49,112.06 547.48,114.31 545.46,116.46 543.45,118.5 541.43,120.43 539.42,122.26 537.4,123.97 535.38,125.58 533.36,127.07 531.33,128.45 529.3,129.71 527.27,130.86 525.24,131.89 523.2,132.81 521.17,133.6 519.12,134.27 517.08,134.82 515.02,135.25 512.97,135.55 510.91,135.73 508.84,135.78 506.77,135.7 504.7,135.49 502.61,135.15 500.53,134.68 498.43,134.08 496.33,133.34"/><polyline points="517.37,76.53 522.42,79.96 527.46,83.32 532.5,86.61 537.53,89.84 542.54,92.99 547.55,96.08 552.55,99.09 557.55,102.03 562.53,104.91 567.51,107.71 572.49,110.44 577.45,113.1 582.41,115.69 587.37,118.21 592.32,120.65 597.26,123.02 602.2,125.32 607.14,127.55 612.07,129.7 616.99,131.78 621.91,133.79 626.83,135.72 631.75,137.58 636.66,139.36 641.58,141.07 646.48,142.7 651.39,144.25 656.3,145.74 661.2,147.14 666.11,148.47 671.01,149.72 675.91,150.89 680.81,151.99 685.72,153.01 690.62,153.95 695.52,154.81 700.43,155.6 705.34,156.3 710.25,156.93 715.16,157.48"/><polyline points="587.38,75.7 585.38,79.31 583.39,82.83 581.39,86.26 579.41,89.61 577.42,92.86 575.43,96.02 573.45,99.09 571.47,102.06 569.49,104.93 567.51,107.71 565.54,110.39 563.56,112.97 561.58,115.44 559.61,117.82 557.63,120.09 555.66,122.26 553.68,124.32 551.7,126.27 549.72,128.11 547.74,129.85 545.76,131.47 543.78,132.98 541.8,134.38 539.81,135.66 537.82,136.82 535.83,137.87 533.83,138.8 531.84,139.61 529.83,140.29 527.83,140.86 525.82,141.3 523.81,141.62 521.79,141.81 519.77,141.87 517.74,141.8 515.71,141.61 513.67,141.28 511.63,140.82 509.58,140.22 507.53,139.49"/><polyline points="513.04,81.56 518.13,85.01 523.21,88.4 528.28,91.72 533.35,94.96 538.4,98.14 543.45,101.25 548.49,104.28 553.52,107.25 558.54,110.14 563.56,112.97 568.57,115.72 573.57,118.4 578.57,121.01 583.56,123.54 588.55,126.01 593.53,128.39 598.5,130.71 603.47,132.95 608.44,135.12 613.4,137.22 618.36,139.24 623.31,141.18 628.27,143.05 633.22,144.85 638.16,146.57 643.11,148.21 648.05,149.78 652.99,151.27 657.93,152.69 662.87,154.02 667.8,155.28 672.74,156.47 677.68,157.57 682.62,158.6 687.55,159.54 692.49,160.41 697.43,161.2 702.37,161.91 707.32,162.54 712.26,163.1"/><polyline points="596.96,80.87 595,84.51 593.04,88.05 591.08,91.51 589.13,94.87 587.18,98.15 585.23,101.33 583.28,104.42 581.34,107.41 579.39,110.3 577.45,113.1 575.51,115.8 573.57,118.4 571.63,120.9 569.7,123.29 567.76,125.58 565.82,127.77 563.88,129.84 561.94,131.81 560,133.68 558.06,135.43 556.12,137.07 554.18,138.59 552.23,140 550.29,141.3 548.34,142.48 546.39,143.54 544.43,144.49 542.48,145.31 540.52,146.01 538.55,146.59 536.59,147.04 534.62,147.37 532.64,147.57 530.66,147.65 528.68,147.59 526.69,147.41 524.7,147.09 522.7,146.64 520.7,146.05 518.69,145.33"/><polyline points="508.71,86.19 513.84,89.67 518.96,93.08 524.07,96.42 529.17,99.69 534.26,102.89 539.35,106.02 544.42,109.07 549.49,112.06 554.55,114.98 559.61,117.82 564.65,120.59 569.7,123.29 574.73,125.92 579.76,128.47 584.78,130.95 589.8,133.36 594.81,135.69 599.82,137.95 604.82,140.13 609.82,142.24 614.81,144.28 619.8,146.24 624.79,148.12 629.78,149.93 634.76,151.66 639.74,153.31 644.72,154.89 649.69,156.39 654.67,157.82 659.64,159.16 664.61,160.43 669.59,161.62 674.56,162.73 679.53,163.77 684.5,164.72 689.48,165.59 694.45,166.39 699.43,167.1 704.4,167.74 709.38,168.29"/><polyline points="606.53,85.77 604.6,89.43 602.67,92.99 600.75,96.47 598.83,99.86 596.92,103.15 595,106.36 593.09,109.46 591.18,112.47 589.27,115.39 587.37,118.21 585.46,120.93 583.56,123.54 581.66,126.06 579.76,128.47 577.86,130.78 575.96,132.98 574.06,135.08 572.16,137.06 570.25,138.94 568.35,140.71 566.45,142.36 564.55,143.9 562.64,145.33 560.73,146.64 558.83,147.84 556.91,148.91 555,149.87 553.09,150.71 551.17,151.42 549.25,152.01 547.32,152.48 545.39,152.82 543.46,153.03 541.53,153.11 539.59,153.07 537.64,152.89 535.69,152.58 533.74,152.14 531.78,151.57 529.81,150.85"/><polyline points="504.37,90.41 509.54,93.91 514.7,97.34 519.85,100.71 524.99,104 530.12,107.22 535.24,110.37 540.36,113.45 545.46,116.46 550.56,119.39 555.66,122.26 560.74,125.05 565.82,127.77 570.89,130.41 575.96,132.98 581.02,135.48 586.07,137.9 591.12,140.25 596.16,142.52 601.2,144.72 606.24,146.85 611.27,148.89 616.3,150.87 621.32,152.76 626.34,154.58 631.36,156.32 636.38,157.99 641.39,159.58 646.4,161.09 651.41,162.52 656.42,163.87 661.43,165.15 666.44,166.35 671.45,167.46 676.46,168.5 681.46,169.46 686.47,170.34 691.48,171.14 696.49,171.86 701.5,172.49 706.52,173.05"/><polyline points="616.07,90.4 614.18,94.07 612.29,97.66 610.4,101.16 608.51,104.56 606.63,107.88 604.75,111.1 602.88,114.22 601,117.25 599.13,120.19 597.26,123.02 595.39,125.76 593.53,128.39 591.66,130.93 589.8,133.36 587.93,135.68 586.07,137.9 584.21,140.01 582.34,142.01 580.48,143.91 578.62,145.69 576.75,147.36 574.89,148.92 573.02,150.36 571.16,151.68 569.29,152.89 567.42,153.98 565.55,154.95 563.67,155.8 561.79,156.52 559.91,157.12 558.03,157.6 556.14,157.95 554.25,158.17 552.36,158.27 550.46,158.23 548.56,158.06 546.66,157.76 544.75,157.33 542.83,156.76 540.91,156.05"/><polyline points="500.02,94.21 505.23,97.74 510.43,101.19 515.62,104.58 520.8,107.89 525.97,111.13 531.13,114.31 536.29,117.41 541.43,120.43 546.57,123.39 551.7,126.27 556.83,129.08 561.94,131.81 567.05,134.48 572.16,137.06 577.25,139.58 582.34,142.01 587.43,144.38 592.51,146.67 597.59,148.88 602.66,151.02 607.73,153.08 612.8,155.06 617.86,156.97 622.92,158.8 627.97,160.55 633.02,162.23 638.07,163.83 643.12,165.35 648.17,166.79 653.22,168.15 658.26,169.43 663.3,170.63 668.35,171.76 673.39,172.8 678.44,173.76 683.48,174.64 688.53,175.45 693.57,176.17 698.62,176.8 703.67,177.36"/><polyline points="625.6,94.74 623.74,98.43 621.88,102.04 620.03,105.56 618.18,108.98 616.33,112.31 614.49,115.55 612.64,118.7 610.81,121.75 608.97,124.7 607.14,127.55 605.3,130.3 603.47,132.95 601.64,135.5 599.82,137.95 597.99,140.29 596.16,142.52 594.34,144.65 592.51,146.67 590.69,148.57 588.86,150.37 587.04,152.05 585.21,153.62 583.39,155.08 581.56,156.41 579.73,157.63 577.9,158.74 576.07,159.72 574.23,160.57 572.4,161.31 570.56,161.92 568.71,162.41 566.87,162.77 565.02,163 563.17,163.1 561.32,163.07 559.46,162.91 557.6,162.62 555.73,162.19 553.86,161.63 551.98,160.93"/><polyline points="495.67,97.58 500.92,101.13 506.16,104.61 511.39,108.02 516.61,111.35 521.82,114.62 527.02,117.81 532.21,120.93 537.4,123.97 542.57,126.95 547.74,129.85 552.91,132.67 558.06,135.43 563.21,138.1 568.35,140.71 573.49,143.24 578.62,145.69 583.74,148.07 588.86,150.37 593.98,152.6 599.09,154.75 604.2,156.82 609.3,158.81 614.4,160.73 619.49,162.57 624.58,164.34 629.67,166.02 634.76,167.63 639.85,169.16 644.93,170.6 650.01,171.97 655.1,173.26 660.18,174.47 665.26,175.6 670.34,176.64 675.42,177.61 680.5,178.5 685.58,179.3 690.66,180.02 695.75,180.66 700.83,181.22"/><polyline points="635.12,98.8 633.29,102.51 631.46,106.14 629.64,109.67 627.83,113.11 626.01,116.46 624.2,119.72 622.4,122.88 620.59,125.95 618.79,128.91 616.99,131.78 615.2,134.55 613.4,137.22 611.61,139.78 609.82,142.24 608.03,144.6 606.24,146.85 604.45,148.99 602.66,151.02 600.88,152.94 599.09,154.75 597.3,156.44 595.51,158.02 593.73,159.49 591.94,160.84 590.15,162.07 588.36,163.18 586.57,164.17 584.77,165.04 582.98,165.78 581.18,166.4 579.38,166.9 577.58,167.27 575.77,167.51 573.96,167.62 572.15,167.59 570.33,167.44 568.51,167.15 566.69,166.73 564.86,166.17 563.03,165.48"/><polyline points="491.3,100.52 496.59,104.09 501.87,107.59 507.14,111.02 512.4,114.37 517.66,117.66 522.9,120.87 528.13,124.01 533.36,127.07 538.57,130.06 543.78,132.98 548.98,135.82 554.18,138.59 559.36,141.29 564.55,143.9 569.72,146.45 574.89,148.92 580.05,151.31 585.21,153.62 590.37,155.86 595.51,158.02 600.66,160.11 605.8,162.11 610.94,164.04 616.07,165.89 621.2,167.67 626.33,169.36 631.45,170.97 636.58,172.51 641.7,173.96 646.82,175.34 651.94,176.63 657.06,177.84 662.17,178.98 667.29,180.03 672.41,181 677.53,181.88 682.64,182.69 687.76,183.41 692.89,184.05 698.01,184.61"/><polyline points="644.62,102.57 642.82,106.3 641.03,109.95 639.24,113.5 637.46,116.96 635.68,120.32 633.91,123.6 632.13,126.77 630.36,129.85 628.6,132.84 626.83,135.72 625.07,138.5 623.31,141.18 621.56,143.76 619.8,146.24 618.05,148.6 616.3,150.87 614.55,153.02 612.8,155.06 611.05,156.99 609.3,158.81 607.55,160.52 605.8,162.11 604.05,163.59 602.3,164.95 600.55,166.19 598.8,167.31 597.05,168.31 595.29,169.19 593.54,169.94 591.78,170.57 590.02,171.07 588.26,171.45 586.5,171.69 584.73,171.81 582.96,171.79 581.19,171.64 579.41,171.36 577.63,170.94 575.85,170.39 574.06,169.69"/><polyline points="486.93,103 492.26,106.6 497.58,110.12 502.89,113.57 508.19,116.94 513.48,120.25 518.76,123.48 524.04,126.63 529.3,129.71 534.56,132.72 539.81,135.66 545.05,138.52 550.29,141.3 555.51,144.01 560.73,146.64 565.95,149.2 571.16,151.68 576.36,154.09 581.56,156.41 586.75,158.67 591.94,160.84 597.12,162.93 602.3,164.95 607.48,166.89 612.65,168.75 617.82,170.53 622.98,172.23 628.15,173.85 633.31,175.39 638.47,176.85 643.63,178.23 648.78,179.53 653.94,180.75 659.1,181.88 664.25,182.94 669.41,183.91 674.56,184.8 679.72,185.6 684.87,186.33 690.03,186.97 695.19,187.52"/><polyline points="654.11,106.06 652.35,109.81 650.59,113.47 648.83,117.03 647.08,120.51 645.34,123.89 643.6,127.18 641.86,130.37 640.12,133.46 638.39,136.46 636.66,139.36 634.94,142.16 633.22,144.85 631.49,147.44 629.78,149.93 628.06,152.31 626.34,154.58 624.63,156.75 622.92,158.8 621.2,160.74 619.49,162.57 617.78,164.29 616.07,165.89 614.36,167.38 612.65,168.75 610.94,170 609.23,171.13 607.51,172.13 605.8,173.02 604.08,173.78 602.37,174.41 600.65,174.92 598.93,175.3 597.21,175.55 595.48,175.67 593.75,175.66 592.02,175.52 590.29,175.24 588.55,174.82 586.81,174.27 585.07,173.58"/><polyline points="482.53,105.03 487.91,108.65 493.27,112.19 498.62,115.66 503.96,119.05 509.3,122.37 514.62,125.62 519.93,128.79 525.24,131.89 530.54,134.92 535.83,137.87 541.11,140.74 546.39,143.54 551.65,146.27 556.91,148.91 562.17,151.49 567.42,153.98 572.66,156.4 577.9,158.74 583.13,161 588.36,163.18 593.58,165.28 598.8,167.31 604.01,169.26 609.23,171.13 614.43,172.91 619.64,174.62 624.84,176.25 630.04,177.8 635.24,179.26 640.44,180.65 645.63,181.95 650.83,183.17 656.02,184.31 661.21,185.36 666.41,186.34 671.6,187.23 676.79,188.03 681.99,188.75 687.19,189.39 692.38,189.95"/><polyline points="663.59,109.27 661.86,113.03 660.14,116.7 658.42,120.28 656.7,123.77 654.99,127.16 653.28,130.47 651.58,133.67 649.88,136.78 648.18,139.79 646.48,142.7 644.79,145.51 643.11,148.21 641.42,150.82 639.74,153.31 638.06,155.71 636.38,157.99 634.7,160.16 633.02,162.23 631.35,164.18 629.67,166.02 628,167.75 626.33,169.36 624.66,170.85 622.98,172.23 621.31,173.49 619.64,174.62 617.97,175.64 616.29,176.53 614.62,177.29 612.94,177.93 611.26,178.45 609.58,178.83 607.9,179.09 606.22,179.21 604.53,179.2 602.84,179.06 601.15,178.78 599.46,178.37 597.76,177.82 596.06,177.13"/><polyline points="478.12,106.6 483.54,110.23 488.94,113.79 494.34,117.28 499.72,120.69 505.1,124.03 510.46,127.29 515.82,130.48 521.17,133.6 526.5,136.64 531.84,139.61 537.16,142.5 542.48,145.31 547.78,148.05 553.09,150.71 558.38,153.29 563.67,155.8 568.95,158.22 574.23,160.57 579.5,162.85 584.77,165.04 590.03,167.15 595.29,169.19 600.55,171.14 605.8,173.02 611.05,174.81 616.29,176.53 621.53,178.16 626.77,179.71 632.01,181.18 637.25,182.57 642.48,183.88 647.71,185.1 652.95,186.24 658.18,187.3 663.41,188.27 668.64,189.16 673.88,189.96 679.11,190.69 684.34,191.32 689.58,191.87"/><polyline points="673.07,112.18 671.37,115.95 669.68,119.64 667.99,123.23 666.31,126.73 664.63,130.14 662.96,133.45 661.29,136.67 659.62,139.79 657.96,142.81 656.3,145.74 654.64,148.56 652.99,151.27 651.34,153.89 649.69,156.39 648.05,158.79 646.4,161.09 644.76,163.27 643.12,165.35 641.48,167.31 639.85,169.16 638.21,170.89 636.58,172.51 634.94,174.01 633.31,175.39 631.68,176.65 630.04,177.8 628.41,178.82 626.77,179.71 625.14,180.48 623.5,181.13 621.87,181.64 620.23,182.03 618.59,182.29 616.94,182.42 615.3,182.41 613.65,182.27 612.01,181.99 610.35,181.58 608.7,181.03 607.04,180.34"/><polyline points="473.69,107.68 479.15,111.34 484.6,114.91 490.03,118.42 495.46,121.85 500.88,125.2 506.29,128.49 511.69,131.69 517.08,134.82 522.46,137.88 527.83,140.86 533.19,143.76 538.55,146.59 543.9,149.34 549.25,152.01 554.58,154.61 559.91,157.12 565.24,159.56 570.56,161.92 575.87,164.2 581.18,166.4 586.48,168.53 591.78,170.57 597.08,172.53 602.37,174.41 607.66,176.21 612.94,177.93 618.22,179.57 623.5,181.13 628.78,182.6 634.06,183.99 639.33,185.3 644.6,186.52 649.87,187.67 655.15,188.72 660.42,189.7 665.69,190.59 670.96,191.39 676.23,192.11 681.51,192.74 686.78,193.29"/><polyline points="682.54,114.79 680.88,118.58 679.22,122.28 677.56,125.89 675.91,129.4 674.27,132.82 672.63,136.14 670.99,139.37 669.36,142.5 667.73,145.54 666.11,148.47 664.48,151.3 662.87,154.02 661.25,156.65 659.64,159.16 658.03,161.57 656.42,163.87 654.82,166.07 653.22,168.15 651.61,170.12 650.01,171.97 648.42,173.71 646.82,175.34 645.22,176.84 643.63,178.23 642.03,179.5 640.44,180.65 638.84,181.67 637.25,182.57 635.65,183.34 634.06,183.99 632.46,184.51 630.86,184.9 629.26,185.16 627.66,185.29 626.06,185.28 624.45,185.14 622.85,184.87 621.24,184.45 619.63,183.9 618.01,183.21"/><polyline points="469.24,108.28 474.74,111.95 480.23,115.55 485.71,119.07 491.18,122.52 496.64,125.89 502.09,129.19 507.54,132.41 512.97,135.55 518.39,138.62 523.81,141.62 529.22,144.53 534.62,147.37 540.01,150.13 545.39,152.82 550.77,155.42 556.14,157.95 561.51,160.4 566.87,162.77 572.23,165.06 577.58,167.27 582.92,169.4 588.26,171.45 593.6,173.41 598.93,175.3 604.26,177.11 609.58,178.83 614.91,180.47 620.23,182.03 625.54,183.51 630.86,184.9 636.18,186.21 641.49,187.44 646.8,188.58 652.11,189.63 657.42,190.61 662.74,191.49 668.05,192.3 673.36,193.01 678.67,193.64 683.99,194.18"/><polyline points="692.02,117.12 690.39,120.92 688.76,124.63 687.13,128.24 685.52,131.77 683.91,135.2 682.3,138.53 680.7,141.77 679.1,144.91 677.5,147.95 675.91,150.89 674.32,153.73 672.74,156.47 671.16,159.1 669.59,161.62 668.01,164.04 666.44,166.35 664.87,168.55 663.3,170.63 661.74,172.61 660.18,174.47 658.62,176.21 657.06,177.84 655.5,179.36 653.94,180.75 652.38,182.02 650.83,183.17 649.27,184.2 647.71,185.1 646.16,185.87 644.6,186.52 643.05,187.05 641.49,187.44 639.93,187.7 638.37,187.82 636.81,187.82 635.25,187.68 633.68,187.4 632.12,186.98 630.55,186.43 628.98,185.74"/><polyline points="464.76,108.39 470.31,112.07 475.84,115.68 481.37,119.22 486.88,122.69 492.39,126.07 497.88,129.38 503.37,132.62 508.84,135.78 514.31,138.86 519.77,141.87 525.22,144.8 530.66,147.65 536.1,150.42 541.53,153.11 546.95,155.73 552.36,158.27 557.77,160.72 563.17,163.1 568.57,165.4 573.96,167.62 579.35,169.75 584.73,171.81 590.11,173.78 595.48,175.67 600.85,177.48 606.22,179.21 611.58,180.85 616.94,182.42 622.3,183.89 627.66,185.29 633.02,186.6 638.37,187.82 643.72,188.96 649.08,190.02 654.43,190.99 659.78,191.88 665.13,192.67 670.48,193.38 675.84,194.01 681.19,194.55"/><polyline points="701.49,119.14 699.89,122.95 698.3,126.67 696.71,130.3 695.12,133.83 693.54,137.27 691.97,140.62 690.4,143.86 688.83,147.01 687.27,150.06 685.72,153.01 684.16,155.85 682.62,158.6 681.07,161.23 679.53,163.77 677.99,166.19 676.46,168.5 674.92,170.71 673.39,172.8 671.86,174.78 670.34,176.64 668.81,178.39 667.29,180.03 665.77,181.54 664.25,182.94 662.73,184.21 661.21,185.36 659.7,186.39 658.18,187.3 656.66,188.07 655.15,188.72 653.63,189.24 652.11,189.63 650.59,189.89 649.08,190.02 647.56,190.01 646.03,189.87 644.51,189.59 642.99,189.17 641.46,188.61 639.93,187.91"/><polyline points="460.26,107.98 465.85,111.68 471.43,115.31 477,118.87 482.56,122.34 488.11,125.75 493.65,129.07 499.18,132.32 504.7,135.49 510.21,138.59 515.71,141.61 521.2,144.55 526.69,147.41 532.17,150.19 537.64,152.89 543.1,155.52 548.56,158.06 554.01,160.53 559.46,162.91 564.9,165.22 570.33,167.44 575.76,169.58 581.19,171.64 586.61,173.62 592.02,175.52 597.44,177.33 602.84,179.06 608.25,180.71 613.65,182.27 619.06,183.75 624.45,185.14 629.85,186.45 635.25,187.68 640.64,188.82 646.03,189.87 651.43,190.84 656.82,191.72 662.21,192.51 667.61,193.22 673,193.84 678.4,194.37"/><polyline points="710.97,120.87 709.4,124.69 707.84,128.42 706.28,132.05 704.73,135.59 703.18,139.04 701.64,142.39 700.11,145.65 698.57,148.8 697.05,151.86 695.52,154.81 694.01,157.67 692.49,160.41 690.98,163.06 689.48,165.59 687.97,168.02 686.47,170.34 684.97,172.55 683.48,174.64 681.99,176.63 680.5,178.5 679.01,180.25 677.53,181.88 676.04,183.4 674.56,184.8 673.08,186.07 671.6,187.23 670.12,188.26 668.64,189.16 667.17,189.94 665.69,190.59 664.21,191.1 662.74,191.49 661.26,191.75 659.78,191.88 658.3,191.86 656.82,191.72 655.34,191.43 653.86,191.01 652.37,190.45 650.89,189.74"/><polyline points="455.73,107.06 461.37,110.78 466.99,114.42 472.61,117.99 478.21,121.48 483.8,124.9 489.39,128.24 494.96,131.5 500.53,134.68 506.08,137.79 511.63,140.82 517.17,143.77 522.7,146.64 528.22,149.43 533.74,152.14 539.25,154.78 544.75,157.33 550.24,159.8 555.73,162.19 561.21,164.5 566.69,166.73 572.16,168.88 577.63,170.94 583.09,172.92 588.55,174.82 594.01,176.64 599.46,178.37 604.91,180.02 610.35,181.58 615.8,183.06 621.24,184.45 626.68,185.76 632.12,186.98 637.55,188.12 642.99,189.17 648.42,190.13 653.86,191.01 659.29,191.8 664.73,192.5 670.17,193.11 675.6,193.64"/><polyline points="720.46,122.3 718.92,126.12 717.39,129.86 715.86,133.5 714.34,137.05 712.83,140.5 711.32,143.86 709.82,147.12 708.32,150.28 706.83,153.34 705.34,156.3 703.85,159.16 702.37,161.91 700.9,164.56 699.43,167.1 697.96,169.53 696.49,171.86 695.03,174.07 693.57,176.17 692.12,178.15 690.66,180.02 689.21,181.78 687.76,183.41 686.32,184.93 684.87,186.33 683.43,187.6 681.99,188.75 680.55,189.78 679.11,190.69 677.67,191.46 676.23,192.11 674.8,192.62 673.36,193.01 671.92,193.26 670.48,193.38 669.05,193.37 667.61,193.22 666.17,192.93 664.73,192.5 663.29,191.93 661.84,191.22"/><polyline points="451.17,105.62 456.85,109.35 462.52,113.01 468.19,116.59 473.84,120.09 479.47,123.52 485.1,126.87 490.72,130.14 496.33,133.34 501.93,136.46 507.53,139.49 513.11,142.45 518.69,145.33 524.25,148.13 529.81,150.85 535.37,153.49 540.91,156.05 546.45,158.53 551.98,160.93 557.51,163.24 563.03,165.48 568.55,167.63 574.06,169.69 579.57,171.68 585.07,173.58 590.57,175.4 596.06,177.13 601.55,178.78 607.04,180.34 612.53,181.82 618.01,183.21 623.5,184.52 628.98,185.74 634.46,186.87 639.93,187.91 645.41,188.87 650.89,189.74 656.37,190.53 661.84,191.22 667.32,191.83 672.8,192.34"/><polyline points="729.95,123.42 728.45,127.25 726.95,130.99 725.45,134.64 723.97,138.2 722.48,141.66 721.01,145.02 719.54,148.28 718.07,151.45 716.61,154.52 715.16,157.48 713.71,160.34 712.26,163.1 710.82,165.75 709.38,168.29 707.95,170.72 706.52,173.05 705.09,175.26 703.67,177.36 702.25,179.35 700.83,181.22 699.42,182.97 698.01,184.61 696.6,186.13 695.19,187.52 693.79,188.8 692.38,189.95 690.98,190.97 689.58,191.87 688.18,192.64 686.78,193.29 685.38,193.8 683.99,194.18 682.59,194.43 681.19,194.55 679.8,194.53 678.4,194.37 677,194.07 675.6,193.64 674.2,193.06 672.8,192.34"/></g>
<g class="dt"><circle cx="458.2" cy="275.8" r="1.1"/><circle cx="726.2" cy="225.1" r="1.1"/><circle cx="511.55" cy="283.9" r="1.1"/><circle cx="712.55" cy="245.88" r="1.1"/><circle cx="564.9" cy="292" r="1.1"/><circle cx="698.9" cy="266.65" r="1.1"/><circle cx="618.25" cy="300.1" r="1.1"/><circle cx="685.25" cy="287.42" r="1.1"/><circle cx="671.6" cy="308.2" r="1.1"/><circle cx="671.6" cy="308.2" r="1.1"/></g>
<g class="pt"><circle cx="450" cy="84.2" r="2.8"/><circle cx="538.7" cy="43.9" r="2.8"/><circle cx="729.6" cy="126.1" r="2.8"/><circle cx="599.1" cy="122.3" r="2.8"/><circle cx="599.1" cy="136.9" r="2.8"/><circle cx="599.1" cy="144.8" r="2.8"/><circle cx="599.1" cy="183.6" r="2.8"/></g>
<g class="tk" font-size="11.3"><text transform="translate(444.85 61.07) scale(1.02 1.05)" text-anchor="end">100</text><text transform="translate(445.67 84.6) scale(1.02 1.05)" text-anchor="end">90</text><text transform="translate(446.48 108.13) scale(1.02 1.05)" text-anchor="end">80</text><text transform="translate(447.3 131.66) scale(1.02 1.05)" text-anchor="end">70</text><text transform="translate(448.11 155.19) scale(1.02 1.05)" text-anchor="end">60</text><text transform="translate(448.93 178.71) scale(1.02 1.05)" text-anchor="end">50</text><text transform="translate(449.74 202.24) scale(1.02 1.05)" text-anchor="end">40</text><text transform="translate(450.56 225.77) scale(1.02 1.05)" text-anchor="end">30</text><text transform="translate(456.7 287.87) scale(1.02 1.05)" text-anchor="end">-1</text><text transform="translate(731.5 235.07) scale(1.02 1.05)" text-anchor="start">-1</text><text transform="translate(510.05 295.97) scale(1.02 1.05)" text-anchor="end">-0.5</text><text transform="translate(717.85 255.85) scale(1.02 1.05)" text-anchor="start">-0.5</text><text transform="translate(563.4 304.07) scale(1.02 1.05)" text-anchor="end">0</text><text transform="translate(704.2 276.62) scale(1.02 1.05)" text-anchor="start">0</text><text transform="translate(616.75 312.17) scale(1.02 1.05)" text-anchor="end">0.5</text><text transform="translate(690.55 297.4) scale(1.02 1.05)" text-anchor="start">0.5</text><text transform="translate(670.1 320.27) scale(1.02 1.05)" text-anchor="end">1</text><text transform="translate(676.9 318.17) scale(1.02 1.05)" text-anchor="start">1</text></g>
<g class="tt"><text transform="translate(412.3 157.5) rotate(-90) scale(1 1.03)" text-anchor="middle" font-size="13.6">L-Asp.&#160; (mg/100g)</text><text transform="translate(560.3 326.6) rotate(8.65) scale(1 1.03)" text-anchor="middle" font-size="13.7">B: Blanching Time (Min)</text><text transform="translate(725.05 300.49) rotate(-54.7) scale(1 1.03)" text-anchor="middle" font-size="13.7">A: Blanching Temp. (C)</text></g>
<text class="pn" x="411" y="64">b</text>
</g>
<g id="plot-c">
<g class="ln"><line x1="60.9" y1="578.5" x2="54.7" y2="386.8"/><line x1="242.6" y1="557.1" x2="245.5" y2="374.2"/><line x1="324.8" y1="623.9" x2="333.4" y2="411.4"/><line x1="54.7" y1="386.8" x2="245.5" y2="374.2"/><line x1="245.5" y1="374.2" x2="333.4" y2="411.4"/><line x1="60.9" y1="578.5" x2="242.6" y2="557.1"/><line x1="242.6" y1="557.1" x2="324.8" y2="623.9"/><line x1="60.9" y1="578.5" x2="115" y2="653.4"/><line x1="115" y1="653.4" x2="324.8" y2="623.9"/><polyline points="59.41,532.3 243.3,513.02 326.87,572.69"/><polyline points="58.62,508.05 243.67,489.88 327.96,545.81"/><polyline points="57.84,483.8 244.03,466.75 329.05,518.92"/><polyline points="57.05,459.55 244.4,443.61 330.14,492.04"/><polyline points="56.27,435.3 244.77,420.47 331.22,465.16"/><polyline points="55.48,411.05 245.13,397.34 332.31,438.28"/><line x1="105.38" y1="527.48" x2="102.4" y2="383.65"/><line x1="151.35" y1="522.66" x2="150.1" y2="380.5"/><line x1="197.33" y1="517.84" x2="197.8" y2="377.35"/><line x1="264.19" y1="527.94" x2="267.48" y2="383.5"/><line x1="285.09" y1="542.85" x2="289.45" y2="392.8"/><line x1="305.98" y1="557.77" x2="311.42" y2="402.1"/></g>
<g class="ms"><polyline points="114.19,548.3 112.78,546.8 111.38,545.29 109.97,543.79 108.57,542.28 107.16,540.78 105.76,539.27 104.35,537.77 102.95,536.27 101.54,534.76 100.14,533.26 98.73,531.75 97.33,530.25 95.92,528.75 94.52,527.24 93.11,525.74 91.71,524.24 90.3,522.73 88.9,521.23 87.49,519.73 86.09,518.23 84.68,516.72 83.28,515.22 81.87,513.72 80.47,512.22 79.06,510.72 77.66,509.21 76.25,507.71 74.84,506.21 73.44,504.71 72.03,503.21 70.63,501.71 69.22,500.21 67.82,498.7 66.41,497.2 65.01,495.7 63.6,494.2 62.2,492.7 60.79,491.2 59.39,489.7 57.98,488.2"/><polyline points="114.19,548.3 119.55,547.7 124.92,547.09 130.29,546.49 135.65,545.89 141.02,545.29 146.38,544.68 151.75,544.08 157.12,543.48 162.48,542.88 167.85,542.27 173.21,541.67 178.58,541.07 183.95,540.46 189.31,539.86 194.68,539.26 200.04,538.66 205.41,538.05 210.78,537.45 216.14,536.85 221.51,536.25 226.88,535.64 232.24,535.04 237.61,534.44 242.97,533.84 248.34,533.23 253.71,532.63 259.07,532.03 264.44,531.43 269.8,530.83 275.17,530.22 280.54,529.62 285.9,529.02 291.27,528.42 296.64,527.81 302,527.21 307.37,526.61 312.74,526.01 318.1,525.4 323.47,524.8 328.83,524.2"/><polyline points="124.92,547.09 123.48,545.6 122.04,544.11 120.6,542.62 119.16,541.12 117.72,539.63 116.28,538.14 114.83,536.65 113.39,535.16 111.95,533.66 110.51,532.17 109.07,530.68 107.63,529.19 106.19,527.7 104.75,526.2 103.31,524.71 101.87,523.22 100.43,521.73 98.99,520.24 97.54,518.75 96.1,517.26 94.66,515.77 93.22,514.28 91.78,512.78 90.34,511.29 88.9,509.8 87.46,508.31 86.02,506.82 84.58,505.33 83.13,503.84 81.69,502.35 80.25,500.86 78.81,499.37 77.37,497.88 75.93,496.39 74.49,494.9 73.05,493.41 71.61,491.92 70.16,490.43 68.72,488.94 67.28,487.46"/><polyline points="111.38,545.29 116.71,544.7 122.04,544.11 127.37,543.52 132.7,542.93 138.03,542.34 143.36,541.75 148.69,541.16 154.02,540.56 159.35,539.97 164.68,539.38 170.01,538.79 175.34,538.2 180.67,537.61 186,537.02 191.33,536.43 196.66,535.84 201.99,535.25 207.32,534.66 212.65,534.07 217.98,533.48 223.31,532.89 228.64,532.3 233.97,531.7 239.3,531.11 244.63,530.52 249.96,529.93 255.29,529.34 260.62,528.75 265.95,528.16 271.28,527.57 276.61,526.98 281.94,526.39 287.27,525.8 292.61,525.21 297.94,524.62 303.27,524.03 308.6,523.44 313.93,522.85 319.26,522.26 324.59,521.66"/><polyline points="135.65,545.89 134.18,544.41 132.7,542.93 131.22,541.45 129.75,539.97 128.27,538.49 126.79,537.01 125.32,535.53 123.84,534.05 122.36,532.57 120.89,531.08 119.41,529.6 117.93,528.12 116.46,526.64 114.98,525.17 113.5,523.69 112.03,522.21 110.55,520.73 109.07,519.25 107.6,517.77 106.12,516.29 104.64,514.81 103.17,513.33 101.69,511.85 100.21,510.37 98.74,508.89 97.26,507.41 95.78,505.93 94.31,504.45 92.83,502.97 91.35,501.5 89.88,500.02 88.4,498.54 86.92,497.06 85.45,495.58 83.97,494.1 82.49,492.62 81.02,491.14 79.54,489.67 78.06,488.19 76.58,486.71"/><polyline points="108.57,542.28 113.86,541.7 119.16,541.12 124.45,540.55 129.75,539.97 135.04,539.39 140.33,538.81 145.63,538.23 150.92,537.65 156.22,537.07 161.51,536.49 166.81,535.92 172.1,535.34 177.39,534.76 182.69,534.18 187.98,533.6 193.28,533.02 198.57,532.44 203.87,531.86 209.16,531.28 214.45,530.71 219.75,530.13 225.04,529.55 230.34,528.97 235.63,528.39 240.93,527.81 246.22,527.23 251.51,526.65 256.81,526.07 262.1,525.5 267.4,524.92 272.69,524.34 277.99,523.76 283.28,523.18 288.57,522.6 293.87,522.02 299.16,521.44 304.46,520.86 309.75,520.29 315.04,519.71 320.34,519.13"/><polyline points="146.38,544.68 144.87,543.21 143.36,541.75 141.85,540.28 140.33,538.81 138.82,537.34 137.31,535.87 135.8,534.4 134.28,532.94 132.77,531.47 131.26,530 129.75,528.53 128.24,527.06 126.72,525.59 125.21,524.13 123.7,522.66 122.19,521.19 120.67,519.72 119.16,518.25 117.65,516.78 116.14,515.32 114.62,513.85 113.11,512.38 111.6,510.91 110.09,509.45 108.57,507.98 107.06,506.51 105.55,505.04 104.04,503.57 102.52,502.11 101.01,500.64 99.5,499.17 97.99,497.7 96.47,496.24 94.96,494.77 93.45,493.3 91.94,491.83 90.42,490.37 88.91,488.9 87.4,487.43 85.89,485.96"/><polyline points="105.76,539.27 111.02,538.71 116.28,538.14 121.53,537.57 126.79,537.01 132.05,536.44 137.31,535.87 142.57,535.31 147.83,534.74 153.09,534.17 158.34,533.6 163.6,533.04 168.86,532.47 174.12,531.9 179.38,531.34 184.64,530.77 189.89,530.2 195.15,529.64 200.41,529.07 205.67,528.5 210.93,527.93 216.19,527.37 221.44,526.8 226.7,526.23 231.96,525.67 237.22,525.1 242.48,524.53 247.74,523.96 252.99,523.4 258.25,522.83 263.51,522.26 268.77,521.7 274.03,521.13 279.28,520.56 284.54,519.99 289.8,519.43 295.06,518.86 300.32,518.29 305.58,517.72 310.83,517.16 316.09,516.59"/><polyline points="157.12,543.48 155.57,542.02 154.02,540.56 152.47,539.11 150.92,537.65 149.37,536.19 147.83,534.74 146.28,533.28 144.73,531.83 143.18,530.37 141.63,528.91 140.09,527.46 138.54,526 136.99,524.54 135.44,523.09 133.89,521.63 132.34,520.17 130.8,518.72 129.25,517.26 127.7,515.8 126.15,514.35 124.6,512.89 123.06,511.43 121.51,509.98 119.96,508.52 118.41,507.06 116.86,505.61 115.31,504.15 113.77,502.69 112.22,501.24 110.67,499.78 109.12,498.33 107.57,496.87 106.03,495.41 104.48,493.96 102.93,492.5 101.38,491.04 99.83,489.59 98.28,488.13 96.74,486.67 95.19,485.22"/><polyline points="102.95,536.27 108.17,535.71 113.39,535.16 118.62,534.6 123.84,534.05 129.06,533.49 134.28,532.94 139.51,532.38 144.73,531.83 149.95,531.27 155.18,530.71 160.4,530.16 165.62,529.6 170.84,529.05 176.07,528.49 181.29,527.94 186.51,527.38 191.73,526.83 196.96,526.27 202.18,525.72 207.4,525.16 212.62,524.61 217.85,524.05 223.07,523.5 228.29,522.94 233.51,522.38 238.73,521.83 243.96,521.27 249.18,520.72 254.4,520.16 259.62,519.61 264.85,519.05 270.07,518.5 275.29,517.94 280.51,517.38 285.73,516.83 290.96,516.27 296.18,515.72 301.4,515.16 306.62,514.61 311.84,514.05"/><polyline points="167.85,542.27 166.26,540.83 164.68,539.38 163.1,537.94 161.51,536.49 159.93,535.05 158.34,533.6 156.76,532.16 155.18,530.71 153.59,529.27 152.01,527.83 150.42,526.38 148.84,524.94 147.26,523.49 145.67,522.05 144.09,520.6 142.5,519.16 140.92,517.71 139.34,516.27 137.75,514.82 136.17,513.38 134.58,511.93 133,510.49 131.42,509.04 129.83,507.6 128.25,506.15 126.66,504.7 125.08,503.26 123.5,501.81 121.91,500.37 120.33,498.92 118.74,497.48 117.16,496.03 115.58,494.59 113.99,493.14 112.41,491.7 110.82,490.25 109.24,488.81 107.66,487.36 106.07,485.92 104.49,484.47"/><polyline points="100.14,533.26 105.33,532.71 110.51,532.17 115.7,531.63 120.89,531.08 126.07,530.54 131.26,530 136.45,529.46 141.63,528.91 146.82,528.37 152.01,527.83 157.19,527.28 162.38,526.74 167.57,526.19 172.75,525.65 177.94,525.11 183.13,524.56 188.31,524.02 193.5,523.48 198.69,522.93 203.87,522.39 209.06,521.85 214.25,521.3 219.43,520.76 224.62,520.21 229.81,519.67 234.99,519.13 240.18,518.58 245.36,518.04 250.55,517.49 255.74,516.95 260.92,516.41 266.11,515.86 271.3,515.32 276.48,514.77 281.67,514.23 286.85,513.69 292.04,513.14 297.23,512.6 302.41,512.05 307.6,511.51"/><polyline points="178.58,541.07 176.96,539.63 175.34,538.2 173.72,536.77 172.1,535.34 170.48,533.9 168.86,532.47 167.24,531.04 165.62,529.6 164,528.17 162.38,526.74 160.76,525.31 159.14,523.87 157.52,522.44 155.9,521.01 154.28,519.57 152.66,518.14 151.04,516.7 149.42,515.27 147.8,513.84 146.18,512.4 144.56,510.97 142.94,509.54 141.32,508.1 139.7,506.67 138.08,505.24 136.46,503.8 134.84,502.37 133.22,500.93 131.6,499.5 129.99,498.07 128.37,496.63 126.75,495.2 125.13,493.76 123.51,492.33 121.89,490.89 120.27,489.46 118.65,488.03 117.03,486.59 115.41,485.16 113.79,483.72"/><polyline points="97.33,530.25 102.48,529.72 107.63,529.19 112.78,528.66 117.93,528.12 123.08,527.59 128.24,527.06 133.39,526.53 138.54,526 143.69,525.47 148.84,524.94 153.99,524.4 159.14,523.87 164.29,523.34 169.44,522.81 174.59,522.28 179.74,521.74 184.9,521.21 190.05,520.68 195.2,520.15 200.35,519.62 205.5,519.08 210.65,518.55 215.8,518.02 220.95,517.49 226.1,516.95 231.25,516.42 236.4,515.89 241.55,515.36 246.7,514.83 251.85,514.29 257,513.76 262.15,513.23 267.3,512.69 272.45,512.16 277.6,511.63 282.75,511.1 287.9,510.56 293.05,510.03 298.2,509.5 303.35,508.96"/><polyline points="189.31,539.86 187.66,538.44 186,537.02 184.34,535.6 182.69,534.18 181.03,532.76 179.38,531.34 177.72,529.92 176.07,528.49 174.41,527.07 172.75,525.65 171.1,524.23 169.44,522.81 167.79,521.39 166.13,519.96 164.48,518.54 162.82,517.12 161.16,515.7 159.51,514.28 157.85,512.86 156.2,511.43 154.54,510.01 152.89,508.59 151.23,507.17 149.58,505.74 147.92,504.32 146.26,502.9 144.61,501.48 142.95,500.05 141.3,498.63 139.64,497.21 137.99,495.78 136.33,494.36 134.68,492.94 133.02,491.52 131.36,490.09 129.71,488.67 128.05,487.25 126.4,485.82 124.74,484.4 123.09,482.97"/><polyline points="94.52,527.24 99.63,526.72 104.75,526.2 109.86,525.68 114.98,525.17 120.1,524.65 125.21,524.13 130.33,523.61 135.44,523.09 140.56,522.57 145.67,522.05 150.79,521.53 155.9,521.01 161.02,520.49 166.13,519.96 171.25,519.44 176.36,518.92 181.48,518.4 186.59,517.88 191.71,517.36 196.82,516.84 201.94,516.32 207.05,515.8 212.16,515.28 217.28,514.76 222.39,514.24 227.51,513.72 232.62,513.2 237.74,512.68 242.85,512.15 247.96,511.63 253.08,511.11 258.19,510.59 263.31,510.07 268.42,509.55 273.54,509.03 278.65,508.51 283.76,507.98 288.88,507.46 293.99,506.94 299.1,506.42"/><polyline points="200.04,538.66 198.35,537.25 196.66,535.84 194.97,534.43 193.28,533.02 191.59,531.61 189.89,530.2 188.2,528.79 186.51,527.38 184.82,525.97 183.13,524.56 181.44,523.15 179.74,521.74 178.05,520.33 176.36,518.92 174.67,517.51 172.98,516.1 171.29,514.69 169.6,513.28 167.9,511.87 166.21,510.46 164.52,509.05 162.83,507.64 161.14,506.23 159.45,504.82 157.76,503.41 156.06,501.99 154.37,500.58 152.68,499.17 150.99,497.76 149.3,496.35 147.61,494.94 145.92,493.52 144.23,492.11 142.53,490.7 140.84,489.29 139.15,487.88 137.46,486.46 135.77,485.05 134.08,483.64 132.39,482.23"/><polyline points="91.71,524.24 96.79,523.73 101.87,523.22 106.95,522.71 112.03,522.21 117.11,521.7 122.19,521.19 127.27,520.68 132.34,520.17 137.42,519.66 142.5,519.16 147.58,518.65 152.66,518.14 157.74,517.63 162.82,517.12 167.9,516.61 172.98,516.1 178.06,515.59 183.14,515.09 188.22,514.58 193.29,514.07 198.37,513.56 203.45,513.05 208.53,512.54 213.61,512.03 218.69,511.52 223.77,511.01 228.84,510.5 233.92,509.99 239,509.48 244.08,508.97 249.16,508.46 254.24,507.95 259.31,507.44 264.39,506.93 269.47,506.42 274.55,505.91 279.63,505.4 284.7,504.89 289.78,504.38 294.86,503.87"/><polyline points="210.78,537.45 209.05,536.06 207.32,534.66 205.59,533.26 203.87,531.86 202.14,530.47 200.41,529.07 198.68,527.67 196.96,526.27 195.23,524.87 193.5,523.48 191.77,522.08 190.05,520.68 188.32,519.28 186.59,517.88 184.86,516.48 183.14,515.09 181.41,513.69 179.68,512.29 177.95,510.89 176.23,509.49 174.5,508.09 172.77,506.69 171.05,505.29 169.32,503.89 167.59,502.49 165.86,501.09 164.14,499.69 162.41,498.29 160.68,496.89 158.96,495.49 157.23,494.09 155.5,492.69 153.77,491.29 152.05,489.89 150.32,488.48 148.59,487.08 146.87,485.68 145.14,484.28 143.41,482.88 141.69,481.48"/><polyline points="88.9,521.23 93.94,520.74 98.99,520.24 104.03,519.74 109.07,519.25 114.12,518.75 119.16,518.25 124.2,517.76 129.25,517.26 134.29,516.76 139.34,516.27 144.38,515.77 149.42,515.27 154.47,514.77 159.51,514.28 164.55,513.78 169.6,513.28 174.64,512.79 179.68,512.29 184.72,511.79 189.77,511.29 194.81,510.79 199.85,510.3 204.9,509.8 209.94,509.3 214.98,508.8 220.02,508.31 225.07,507.81 230.11,507.31 235.15,506.81 240.19,506.31 245.24,505.81 250.28,505.32 255.32,504.82 260.36,504.32 265.4,503.82 270.45,503.32 275.49,502.82 280.53,502.32 285.57,501.83 290.61,501.33"/><polyline points="221.51,536.25 219.75,534.86 217.98,533.48 216.22,532.09 214.45,530.71 212.69,529.32 210.93,527.93 209.16,526.55 207.4,525.16 205.64,523.78 203.87,522.39 202.11,521 200.35,519.62 198.58,518.23 196.82,516.84 195.06,515.45 193.29,514.07 191.53,512.68 189.77,511.29 188,509.9 186.24,508.52 184.48,507.13 182.71,505.74 180.95,504.35 179.19,502.96 177.43,501.57 175.66,500.19 173.9,498.8 172.14,497.41 170.37,496.02 168.61,494.63 166.85,493.24 165.09,491.85 163.32,490.46 161.56,489.07 159.8,487.68 158.03,486.29 156.27,484.9 154.51,483.51 152.75,482.12 150.98,480.73"/><polyline points="86.09,518.23 91.1,517.74 96.1,517.26 101.11,516.77 106.12,516.29 111.13,515.8 116.14,515.32 121.14,514.83 126.15,514.35 131.16,513.86 136.17,513.38 141.18,512.89 146.18,512.4 151.19,511.92 156.2,511.43 161.21,510.95 166.21,510.46 171.22,509.98 176.23,509.49 181.23,509 186.24,508.52 191.25,508.03 196.25,507.54 201.26,507.06 206.27,506.57 211.28,506.08 216.28,505.6 221.29,505.11 226.3,504.62 231.3,504.14 236.31,503.65 241.31,503.16 246.32,502.68 251.33,502.19 256.33,501.7 261.34,501.21 266.34,500.73 271.35,500.24 276.36,499.75 281.36,499.27 286.37,498.78"/><polyline points="232.24,535.04 230.44,533.67 228.64,532.3 226.84,530.92 225.04,529.55 223.24,528.17 221.44,526.8 219.64,525.43 217.85,524.05 216.05,522.68 214.25,521.3 212.45,519.93 210.65,518.55 208.85,517.18 207.05,515.8 205.25,514.43 203.45,513.05 201.65,511.67 199.85,510.3 198.05,508.92 196.25,507.54 194.46,506.17 192.66,504.79 190.86,503.41 189.06,502.04 187.26,500.66 185.46,499.28 183.66,497.9 181.86,496.53 180.06,495.15 178.27,493.77 176.47,492.39 174.67,491.01 172.87,489.63 171.07,488.25 169.27,486.88 167.47,485.5 165.68,484.12 163.88,482.74 162.08,481.36 160.28,479.98"/><polyline points="83.28,515.22 88.25,514.75 93.22,514.28 98.19,513.8 103.17,513.33 108.14,512.85 113.11,512.38 118.08,511.91 123.06,511.43 128.03,510.96 133,510.49 137.97,510.01 142.94,509.54 147.91,509.06 152.89,508.59 157.86,508.11 162.83,507.64 167.8,507.16 172.77,506.69 177.74,506.22 182.71,505.74 187.69,505.27 192.66,504.79 197.63,504.32 202.6,503.84 207.57,503.37 212.54,502.89 217.51,502.41 222.48,501.94 227.45,501.46 232.42,500.99 237.39,500.51 242.36,500.04 247.33,499.56 252.3,499.08 257.27,498.61 262.24,498.13 267.21,497.66 272.18,497.18 277.15,496.7 282.12,496.23"/><polyline points="242.97,533.84 241.14,532.48 239.3,531.11 237.47,529.75 235.63,528.39 233.8,527.03 231.96,525.67 230.13,524.3 228.29,522.94 226.45,521.58 224.62,520.21 222.78,518.85 220.95,517.49 219.11,516.12 217.28,514.76 215.44,513.4 213.61,512.03 211.77,510.67 209.94,509.3 208.1,507.94 206.27,506.57 204.43,505.21 202.6,503.84 200.76,502.47 198.93,501.11 197.09,499.74 195.26,498.38 193.42,497.01 191.59,495.64 189.76,494.28 187.92,492.91 186.09,491.54 184.25,490.17 182.42,488.81 180.58,487.44 178.75,486.07 176.91,484.7 175.08,483.33 173.25,481.96 171.41,480.6 169.58,479.23"/><polyline points="80.47,512.22 85.4,511.76 90.34,511.29 95.28,510.83 100.21,510.37 105.15,509.91 110.09,509.45 115.02,508.98 119.96,508.52 124.9,508.06 129.83,507.6 134.77,507.13 139.7,506.67 144.64,506.21 149.58,505.74 154.51,505.28 159.45,504.82 164.38,504.35 169.32,503.89 174.25,503.43 179.19,502.96 184.12,502.5 189.06,502.04 193.99,501.57 198.93,501.11 203.86,500.64 208.8,500.18 213.73,499.72 218.67,499.25 223.6,498.79 228.54,498.32 233.47,497.86 238.41,497.39 243.34,496.93 248.27,496.46 253.21,496 258.14,495.53 263.08,495.07 268.01,494.6 272.94,494.14 277.88,493.67"/><polyline points="253.71,532.63 251.83,531.28 249.96,529.93 248.09,528.58 246.22,527.23 244.35,525.88 242.48,524.53 240.61,523.18 238.73,521.83 236.86,520.48 234.99,519.13 233.12,517.77 231.25,516.42 229.38,515.07 227.51,513.72 225.64,512.37 223.77,511.01 221.89,509.66 220.02,508.31 218.15,506.95 216.28,505.6 214.41,504.24 212.54,502.89 210.67,501.54 208.8,500.18 206.93,498.83 205.06,497.47 203.19,496.12 201.32,494.76 199.45,493.4 197.58,492.05 195.71,490.69 193.83,489.33 191.96,487.98 190.09,486.62 188.22,485.26 186.35,483.91 184.48,482.55 182.61,481.19 180.74,479.83 178.87,478.47"/><polyline points="77.66,509.21 82.56,508.76 87.46,508.31 92.36,507.86 97.26,507.41 102.16,506.96 107.06,506.51 111.96,506.06 116.86,505.61 121.76,505.16 126.66,504.7 131.56,504.25 136.46,503.8 141.36,503.35 146.26,502.9 151.16,502.45 156.06,501.99 160.96,501.54 165.86,501.09 170.76,500.64 175.66,500.19 180.56,499.73 185.46,499.28 190.36,498.83 195.26,498.38 200.16,497.92 205.06,497.47 209.96,497.02 214.86,496.56 219.75,496.11 224.65,495.66 229.55,495.2 234.45,494.75 239.35,494.3 244.25,493.84 249.14,493.39 254.04,492.94 258.94,492.48 263.84,492.03 268.74,491.57 273.63,491.12"/><polyline points="264.44,531.43 262.53,530.09 260.62,528.75 258.72,527.41 256.81,526.07 254.9,524.74 252.99,523.4 251.09,522.06 249.18,520.72 247.27,519.38 245.36,518.04 243.46,516.7 241.55,515.36 239.64,514.02 237.74,512.68 235.83,511.33 233.92,509.99 232.02,508.65 230.11,507.31 228.2,505.97 226.3,504.62 224.39,503.28 222.48,501.94 220.57,500.6 218.67,499.25 216.76,497.91 214.86,496.56 212.95,495.22 211.04,493.88 209.14,492.53 207.23,491.19 205.32,489.84 203.42,488.5 201.51,487.15 199.6,485.8 197.7,484.46 195.79,483.11 193.89,481.76 191.98,480.42 190.07,479.07 188.17,477.72"/><polyline points="74.84,506.21 79.71,505.77 84.58,505.33 89.44,504.89 94.31,504.45 99.17,504.01 104.04,503.57 108.9,503.13 113.77,502.69 118.63,502.25 123.5,501.81 128.36,501.37 133.22,500.93 138.09,500.49 142.95,500.05 147.82,499.61 152.68,499.17 157.55,498.73 162.41,498.29 167.27,497.85 172.14,497.41 177,496.97 181.86,496.53 186.73,496.08 191.59,495.64 196.45,495.2 201.32,494.76 206.18,494.32 211.04,493.88 215.91,493.43 220.77,492.99 225.63,492.55 230.49,492.11 235.36,491.66 240.22,491.22 245.08,490.78 249.94,490.34 254.8,489.89 259.67,489.45 264.53,489.01 269.39,488.56"/><polyline points="275.17,530.22 273.23,528.9 271.28,527.57 269.34,526.24 267.4,524.92 265.45,523.59 263.51,522.26 261.57,520.93 259.62,519.61 257.68,518.28 255.74,516.95 253.79,515.62 251.85,514.29 249.91,512.96 247.96,511.63 246.02,510.3 244.08,508.97 242.14,507.64 240.19,506.31 238.25,504.98 236.31,503.65 234.37,502.32 232.42,500.99 230.48,499.66 228.54,498.32 226.59,496.99 224.65,495.66 222.71,494.32 220.77,492.99 218.83,491.66 216.88,490.32 214.94,488.99 213,487.66 211.06,486.32 209.11,484.99 207.17,483.65 205.23,482.32 203.29,480.98 201.35,479.64 199.41,478.31 197.46,476.97"/><polyline points="72.03,503.21 76.86,502.78 81.69,502.35 86.52,501.92 91.35,501.5 96.18,501.07 101.01,500.64 105.84,500.21 110.67,499.78 115.5,499.35 120.33,498.92 125.16,498.49 129.99,498.07 134.81,497.64 139.64,497.21 144.47,496.78 149.3,496.35 154.13,495.92 158.96,495.49 163.78,495.06 168.61,494.63 173.44,494.2 178.27,493.77 183.09,493.34 187.92,492.91 192.75,492.48 197.58,492.05 202.4,491.62 207.23,491.19 212.06,490.76 216.88,490.32 221.71,489.89 226.54,489.46 231.36,489.03 236.19,488.6 241.02,488.17 245.84,487.74 250.67,487.3 255.49,486.87 260.32,486.44 265.15,486.01"/><polyline points="285.9,529.02 283.92,527.7 281.94,526.39 279.97,525.07 277.99,523.76 276.01,522.44 274.03,521.13 272.05,519.81 270.07,518.5 268.09,517.18 266.11,515.86 264.13,514.54 262.15,513.23 260.17,511.91 258.19,510.59 256.21,509.27 254.24,507.95 252.26,506.64 250.28,505.32 248.3,504 246.32,502.68 244.34,501.36 242.36,500.04 240.38,498.72 238.41,497.39 236.43,496.07 234.45,494.75 232.47,493.43 230.49,492.11 228.51,490.78 226.54,489.46 224.56,488.14 222.58,486.82 220.6,485.49 218.62,484.17 216.65,482.84 214.67,481.52 212.69,480.19 210.71,478.87 208.74,477.54 206.76,476.22"/><polyline points="69.22,500.21 74.02,499.79 78.81,499.37 83.61,498.95 88.4,498.54 93.19,498.12 97.99,497.7 102.78,497.29 107.57,496.87 112.37,496.45 117.16,496.03 121.95,495.62 126.75,495.2 131.54,494.78 136.33,494.36 141.12,493.94 145.92,493.52 150.71,493.11 155.5,492.69 160.29,492.27 165.09,491.85 169.88,491.43 174.67,491.01 179.46,490.59 184.25,490.17 189.04,489.75 193.83,489.33 198.63,488.92 203.42,488.5 208.21,488.08 213,487.66 217.79,487.24 222.58,486.82 227.37,486.39 232.16,485.97 236.95,485.55 241.74,485.13 246.53,484.71 251.32,484.29 256.11,483.87 260.9,483.45"/><polyline points="296.64,527.81 294.62,526.51 292.61,525.21 290.59,523.9 288.57,522.6 286.56,521.3 284.54,519.99 282.53,518.69 280.51,517.38 278.5,516.08 276.48,514.77 274.47,513.47 272.45,512.16 270.44,510.86 268.42,509.55 266.41,508.24 264.39,506.93 262.38,505.63 260.36,504.32 258.35,503.01 256.33,501.7 254.32,500.39 252.3,499.08 250.29,497.77 248.27,496.46 246.26,495.15 244.25,493.84 242.23,492.53 240.22,491.22 238.2,489.91 236.19,488.6 234.18,487.29 232.16,485.97 230.15,484.66 228.13,483.35 226.12,482.04 224.11,480.72 222.09,479.41 220.08,478.09 218.07,476.78 216.05,475.46"/><polyline points="66.41,497.2 71.17,496.8 75.93,496.39 80.69,495.99 85.45,495.58 90.2,495.17 94.96,494.77 99.72,494.36 104.48,493.96 109.23,493.55 113.99,493.14 118.75,492.74 123.51,492.33 128.26,491.92 133.02,491.52 137.78,491.11 142.53,490.7 147.29,490.29 152.05,489.89 156.8,489.48 161.56,489.07 166.32,488.66 171.07,488.25 175.83,487.85 180.58,487.44 185.34,487.03 190.09,486.62 194.85,486.21 199.6,485.8 204.36,485.39 209.11,484.99 213.87,484.58 218.62,484.17 223.38,483.76 228.13,483.35 232.89,482.94 237.64,482.53 242.4,482.12 247.15,481.71 251.9,481.3 256.66,480.89"/><polyline points="307.37,526.61 305.32,525.32 303.27,524.03 301.21,522.74 299.16,521.44 297.11,520.15 295.06,518.86 293.01,517.57 290.96,516.27 288.91,514.98 286.85,513.69 284.8,512.39 282.75,511.1 280.7,509.8 278.65,508.51 276.6,507.21 274.55,505.91 272.5,504.62 270.45,503.32 268.4,502.02 266.34,500.73 264.29,499.43 262.24,498.13 260.19,496.83 258.14,495.53 256.09,494.24 254.04,492.94 251.99,491.64 249.94,490.34 247.89,489.04 245.84,487.74 243.79,486.43 241.74,485.13 239.69,483.83 237.64,482.53 235.59,481.23 233.54,479.92 231.49,478.62 229.44,477.32 227.39,476.01 225.35,474.71"/><polyline points="63.6,494.2 68.32,493.81 73.05,493.41 77.77,493.02 82.49,492.62 87.21,492.23 91.94,491.83 96.66,491.44 101.38,491.04 106.1,490.65 110.82,490.25 115.55,489.86 120.27,489.46 124.99,489.06 129.71,488.67 134.43,488.27 139.15,487.88 143.87,487.48 148.59,487.08 153.31,486.69 158.03,486.29 162.75,485.89 167.47,485.5 172.19,485.1 176.91,484.7 181.63,484.3 186.35,483.91 191.07,483.51 195.79,483.11 200.51,482.71 205.23,482.32 209.95,481.92 214.67,481.52 219.39,481.12 224.11,480.72 228.82,480.32 233.54,479.92 238.26,479.53 242.98,479.13 247.7,478.73 252.42,478.33"/><polyline points="318.1,525.4 316.01,524.13 313.93,522.85 311.84,521.57 309.75,520.29 307.66,519.01 305.58,517.72 303.49,516.44 301.4,515.16 299.31,513.88 297.23,512.6 295.14,511.31 293.05,510.03 290.96,508.75 288.88,507.46 286.79,506.18 284.7,504.89 282.62,503.61 280.53,502.32 278.44,501.04 276.36,499.75 274.27,498.47 272.18,497.18 270.1,495.89 268.01,494.6 265.92,493.32 263.84,492.03 261.75,490.74 259.67,489.45 257.58,488.16 255.49,486.87 253.41,485.58 251.32,484.29 249.24,483 247.15,481.71 245.07,480.42 242.98,479.13 240.89,477.83 238.81,476.54 236.72,475.25 234.64,473.96"/><polyline points="60.79,491.2 65.48,490.82 70.16,490.43 74.85,490.05 79.54,489.67 84.22,489.28 88.91,488.9 93.6,488.51 98.28,488.13 102.97,487.75 107.66,487.36 112.34,486.98 117.03,486.59 121.71,486.21 126.4,485.82 131.08,485.44 135.77,485.05 140.45,484.67 145.14,484.28 149.82,483.89 154.51,483.51 159.19,483.12 163.88,482.74 168.56,482.35 173.25,481.96 177.93,481.58 182.61,481.19 187.3,480.8 191.98,480.42 196.66,480.03 201.35,479.64 206.03,479.26 210.71,478.87 215.4,478.48 220.08,478.09 224.76,477.71 229.44,477.32 234.13,476.93 238.81,476.54 243.49,476.15 248.17,475.76"/><polyline points="328.83,524.2 326.71,522.93 324.59,521.66 322.46,520.4 320.34,519.13 318.22,517.86 316.09,516.59 313.97,515.32 311.84,514.05 309.72,512.78 307.6,511.51 305.47,510.24 303.35,508.96 301.23,507.69 299.1,506.42 296.98,505.15 294.86,503.87 292.74,502.6 290.61,501.33 288.49,500.05 286.37,498.78 284.25,497.5 282.12,496.23 280,494.95 277.88,493.67 275.76,492.4 273.63,491.12 271.51,489.84 269.39,488.56 267.27,487.29 265.15,486.01 263.02,484.73 260.9,483.45 258.78,482.17 256.66,480.89 254.54,479.61 252.42,478.33 250.29,477.05 248.17,475.76 246.05,474.48 243.93,473.2"/><polyline points="57.98,488.2 62.63,487.83 67.28,487.46 71.93,487.08 76.58,486.71 81.24,486.34 85.89,485.96 90.54,485.59 95.19,485.22 99.84,484.84 104.49,484.47 109.14,484.1 113.79,483.72 118.44,483.35 123.09,482.97 127.74,482.6 132.39,482.23 137.04,481.85 141.69,481.48 146.33,481.1 150.98,480.73 155.63,480.35 160.28,479.98 164.93,479.6 169.58,479.23 174.23,478.85 178.87,478.47 183.52,478.1 188.17,477.72 192.82,477.35 197.46,476.97 202.11,476.59 206.76,476.22 211.41,475.84 216.05,475.46 220.7,475.09 225.35,474.71 229.99,474.33 234.64,473.96 239.28,473.58 243.93,473.2"/></g>
<g class="dt"><circle cx="115" cy="653.4" r="1.1"/><circle cx="115" cy="653.4" r="1.1"/><circle cx="101.47" cy="634.67" r="1.1"/><circle cx="167.45" cy="646.02" r="1.1"/><circle cx="87.95" cy="615.95" r="1.1"/><circle cx="219.9" cy="638.65" r="1.1"/><circle cx="74.42" cy="597.23" r="1.1"/><circle cx="272.35" cy="631.27" r="1.1"/><circle cx="60.9" cy="578.5" r="1.1"/><circle cx="324.8" cy="623.9" r="1.1"/></g>
<g class="pt"><circle cx="58.1" cy="488.2" r="2.8"/><circle cx="111.3" cy="449.8" r="2.8"/><circle cx="243.4" cy="471.6" r="2.8"/><circle cx="330" cy="486.1" r="2.8"/><circle cx="186.1" cy="500.7" r="2.8"/><circle cx="186.1" cy="514.4" r="2.8"/><circle cx="186.1" cy="533.9" r="2.8"/><circle cx="186.1" cy="549.1" r="2.8"/></g>
<g class="tk" font-size="11.3"><text transform="translate(51.09 390.67) scale(1.02 1.05)" text-anchor="end">1.8</text><text transform="translate(51.87 415) scale(1.02 1.05)" text-anchor="end">1.6</text><text transform="translate(52.66 439.34) scale(1.02 1.05)" text-anchor="end">1.4</text><text transform="translate(53.45 463.67) scale(1.02 1.05)" text-anchor="end">1.2</text><text transform="translate(54.24 488) scale(1.02 1.05)" text-anchor="end">1</text><text transform="translate(55.02 512.34) scale(1.02 1.05)" text-anchor="end">0.8</text><text transform="translate(55.81 536.67) scale(1.02 1.05)" text-anchor="end">0.6</text><text transform="translate(106.4 663.57) scale(1.02 1.05)" text-anchor="end">-1</text><text transform="translate(116.3 665.67) scale(1.02 1.05)" text-anchor="start">-1</text><text transform="translate(92.88 644.85) scale(1.02 1.05)" text-anchor="end">-0.5</text><text transform="translate(168.75 658.3) scale(1.02 1.05)" text-anchor="start">-0.5</text><text transform="translate(79.35 626.12) scale(1.02 1.05)" text-anchor="end">0</text><text transform="translate(221.2 650.92) scale(1.02 1.05)" text-anchor="start">0</text><text transform="translate(65.83 607.4) scale(1.02 1.05)" text-anchor="end">0.5</text><text transform="translate(273.65 643.55) scale(1.02 1.05)" text-anchor="start">0.5</text><text transform="translate(52.3 588.67) scale(1.02 1.05)" text-anchor="end">1</text><text transform="translate(326.1 636.17) scale(1.02 1.05)" text-anchor="start">1</text></g>
<g class="tt"><text transform="translate(20.2 472.6) rotate(-90) scale(1 1.03)" text-anchor="middle" font-size="13.7">Acrylamide (mg/1000g)</text><text transform="translate(44.63 638.97) rotate(54.2) scale(1 1.03)" text-anchor="middle" font-size="13.7">B: Blanching Time (Min)</text><text transform="translate(236.4 675.8) rotate(-8) scale(1 1.03)" text-anchor="middle" font-size="14.0">A: Blanching Temp. (C)</text></g>
<text class="pn" x="17.5" y="385">c</text>
</g>
<g id="plot-d">
<g class="ln"><line x1="457.4" y1="605.8" x2="447.3" y2="416.9"/><line x1="579.3" y1="542.4" x2="578.4" y2="373.2"/><line x1="730.2" y1="589" x2="740.2" y2="404.3"/><line x1="447.3" y1="416.9" x2="578.4" y2="373.2"/><line x1="578.4" y1="373.2" x2="740.2" y2="404.3"/><line x1="457.4" y1="605.8" x2="579.3" y2="542.4"/><line x1="579.3" y1="542.4" x2="730.2" y2="589"/><line x1="457.4" y1="605.8" x2="617.6" y2="667"/><line x1="617.6" y1="667" x2="730.2" y2="589"/><polyline points="454.99,560.8 579.09,502.09 732.58,545"/><polyline points="453.89,540.24 578.99,483.68 733.67,524.9"/><polyline points="452.8,519.69 578.89,465.27 734.76,504.8"/><polyline points="451.7,499.13 578.79,446.85 735.85,484.7"/><polyline points="450.6,478.57 578.69,428.44 736.94,464.6"/><polyline points="449.5,458.01 578.6,410.03 738.02,444.5"/><polyline points="448.4,437.46 578.5,391.61 739.11,424.4"/><line x1="486.02" y1="546.12" x2="480.08" y2="405.97"/><line x1="517.04" y1="531.45" x2="512.85" y2="395.05"/><line x1="548.06" y1="516.77" x2="545.62" y2="384.12"/><line x1="617.46" y1="512.82" x2="618.85" y2="380.97"/><line x1="655.83" y1="523.55" x2="659.3" y2="388.75"/><line x1="694.21" y1="534.27" x2="699.75" y2="396.53"/></g>
<g class="ms"><polyline points="578.86,459.7 582.76,459.48 586.67,459.26 590.58,459.03 594.49,458.8 598.4,458.56 602.33,458.32 606.25,458.07 610.18,457.82 614.11,457.56 618.05,457.29 621.98,457.02 625.93,456.75 629.88,456.46 633.83,456.18 637.78,455.88 641.74,455.59 645.7,455.28 649.67,454.97 653.64,454.66 657.61,454.34 661.59,454.01 665.57,453.68 669.56,453.35 673.55,453.01 677.54,452.66 681.54,452.31 685.54,451.95 689.54,451.59 693.55,451.22 697.56,450.84 701.58,450.46 705.6,450.08 709.62,449.69 713.65,449.29 717.68,448.89 721.72,448.48 725.76,448.07 729.8,447.65 733.85,447.23 737.9,446.8"/><polyline points="578.86,459.7 575.7,460.84 572.54,461.97 569.37,463.1 566.21,464.24 563.05,465.37 559.88,466.5 556.72,467.63 553.55,468.75 550.39,469.88 547.22,471.01 544.05,472.13 540.89,473.25 537.72,474.37 534.55,475.49 531.38,476.61 528.21,477.73 525.04,478.85 521.87,479.96 518.7,481.08 515.53,482.19 512.35,483.3 509.18,484.41 506.01,485.52 502.83,486.63 499.66,487.74 496.48,488.84 493.31,489.95 490.13,491.05 486.95,492.16 483.78,493.26 480.6,494.36 477.42,495.45 474.24,496.55 471.06,497.65 467.88,498.74 464.7,499.84 461.52,500.93 458.33,502.02 455.15,503.11 451.97,504.2"/><polyline points="572.54,461.97 576.45,461.76 580.36,461.54 584.28,461.32 588.2,461.1 592.13,460.86 596.06,460.63 599.99,460.38 603.93,460.13 607.87,459.88 611.82,459.62 615.77,459.35 619.72,459.08 623.67,458.81 627.64,458.52 631.6,458.24 635.57,457.94 639.54,457.64 643.52,457.34 647.5,457.03 651.48,456.72 655.47,456.39 659.46,456.07 663.45,455.74 667.45,455.4 671.46,455.06 675.46,454.71 679.47,454.35 683.49,453.99 687.51,453.63 691.53,453.26 695.55,452.88 699.58,452.5 703.62,452.11 707.65,451.72 711.7,451.32 715.74,450.92 719.79,450.51 723.84,450.1 727.9,449.68 731.96,449.25"/><polyline points="586.67,459.26 583.51,460.4 580.36,461.54 577.21,462.68 574.06,463.82 570.9,464.96 567.75,466.1 564.59,467.23 561.43,468.36 558.28,469.5 555.12,470.63 551.96,471.76 548.81,472.89 545.65,474.01 542.49,475.14 539.33,476.26 536.17,477.39 533.01,478.51 529.84,479.63 526.68,480.75 523.52,481.87 520.36,482.99 517.19,484.1 514.03,485.22 510.86,486.33 507.7,487.44 504.53,488.56 501.36,489.67 498.2,490.77 495.03,491.88 491.86,492.99 488.69,494.09 485.52,495.2 482.35,496.3 479.18,497.4 476.01,498.5 472.84,499.6 469.67,500.7 466.49,501.79 463.32,502.89 460.14,503.98"/><polyline points="566.21,464.24 570.13,464.03 574.06,463.82 577.98,463.61 581.91,463.39 585.85,463.16 589.79,462.93 593.73,462.69 597.68,462.45 601.63,462.2 605.58,461.94 609.54,461.68 613.51,461.42 617.47,461.14 621.44,460.87 625.42,460.58 629.39,460.3 633.38,460 637.36,459.7 641.35,459.4 645.34,459.09 649.34,458.77 653.34,458.45 657.35,458.12 661.35,457.79 665.37,457.45 669.38,457.1 673.4,456.75 677.43,456.4 681.46,456.04 685.49,455.67 689.52,455.3 693.56,454.92 697.61,454.54 701.65,454.15 705.7,453.75 709.76,453.35 713.82,452.95 717.88,452.53 721.95,452.12 726.02,451.69"/><polyline points="594.49,458.8 591.35,459.95 588.2,461.1 585.06,462.24 581.91,463.39 578.77,464.53 575.62,465.67 572.48,466.81 569.33,467.95 566.18,469.09 563.04,470.22 559.89,471.36 556.74,472.49 553.59,473.63 550.44,474.76 547.29,475.89 544.14,477.02 540.99,478.15 537.83,479.27 534.68,480.4 531.53,481.52 528.37,482.64 525.22,483.77 522.06,484.89 518.91,486.01 515.75,487.12 512.59,488.24 509.44,489.35 506.28,490.47 503.12,491.58 499.96,492.69 496.8,493.8 493.64,494.91 490.48,496.02 487.32,497.13 484.16,498.23 480.99,499.34 477.83,500.44 474.67,501.54 471.5,502.64 468.34,503.74"/><polyline points="559.88,466.5 563.81,466.3 567.75,466.1 571.68,465.89 575.62,465.67 579.57,465.45 583.52,465.22 587.47,464.99 591.43,464.75 595.39,464.51 599.35,464.26 603.32,464 607.29,463.74 611.27,463.48 615.25,463.2 619.23,462.93 623.22,462.64 627.21,462.35 631.2,462.06 635.2,461.76 639.2,461.45 643.21,461.14 647.22,460.82 651.24,460.5 655.25,460.17 659.28,459.83 663.3,459.49 667.33,459.15 671.37,458.8 675.4,458.44 679.45,458.07 683.49,457.71 687.54,457.33 691.59,456.95 695.65,456.56 699.71,456.17 703.78,455.78 707.84,455.37 711.92,454.96 715.99,454.55 720.07,454.13"/><polyline points="602.33,458.32 599.19,459.47 596.06,460.63 592.92,461.78 589.79,462.93 586.65,464.08 583.52,465.22 580.38,466.37 577.24,467.51 574.11,468.66 570.97,469.8 567.83,470.94 564.69,472.08 561.55,473.22 558.41,474.35 555.27,475.49 552.12,476.62 548.98,477.76 545.84,478.89 542.7,480.02 539.55,481.15 536.41,482.28 533.26,483.4 530.12,484.53 526.97,485.65 523.82,486.78 520.67,487.9 517.53,489.02 514.38,490.14 511.23,491.26 508.08,492.37 504.93,493.49 501.78,494.6 498.63,495.71 495.47,496.83 492.32,497.94 489.17,499.04 486.01,500.15 482.86,501.26 479.7,502.36 476.55,503.47"/><polyline points="553.55,468.75 557.49,468.56 561.43,468.36 565.38,468.16 569.33,467.95 573.29,467.73 577.24,467.51 581.21,467.29 585.17,467.05 589.14,466.81 593.11,466.57 597.09,466.32 601.07,466.06 605.06,465.8 609.05,465.54 613.04,465.26 617.04,464.98 621.04,464.7 625.04,464.41 629.05,464.11 633.06,463.81 637.08,463.5 641.1,463.19 645.12,462.87 649.15,462.54 653.18,462.21 657.22,461.88 661.26,461.53 665.3,461.19 669.35,460.83 673.4,460.47 677.46,460.11 681.51,459.74 685.58,459.36 689.64,458.98 693.72,458.59 697.79,458.19 701.87,457.79 705.95,457.39 710.04,456.98 714.13,456.56"/><polyline points="610.18,457.82 607.05,458.98 603.93,460.13 600.8,461.29 597.68,462.45 594.55,463.6 591.43,464.75 588.3,465.9 585.17,467.05 582.04,468.2 578.91,469.35 575.78,470.5 572.65,471.64 569.52,472.78 566.39,473.93 563.26,475.07 560.13,476.21 556.99,477.34 553.86,478.48 550.73,479.62 547.59,480.75 544.46,481.88 541.32,483.02 538.18,484.15 535.05,485.28 531.91,486.4 528.77,487.53 525.63,488.66 522.49,489.78 519.35,490.9 516.21,492.02 513.07,493.14 509.93,494.26 506.79,495.38 503.64,496.5 500.5,497.61 497.36,498.72 494.21,499.84 491.07,500.95 487.92,502.06 484.77,503.17"/><polyline points="547.22,471.01 551.17,470.82 555.12,470.63 559.08,470.43 563.04,470.22 567,470.01 570.97,469.8 574.94,469.58 578.91,469.35 582.89,469.12 586.88,468.88 590.86,468.63 594.85,468.38 598.85,468.12 602.85,467.86 606.85,467.59 610.86,467.32 614.87,467.04 618.88,466.75 622.9,466.46 626.92,466.16 630.95,465.86 634.98,465.55 639.01,465.23 643.05,464.91 647.09,464.59 651.13,464.25 655.18,463.92 659.24,463.57 663.29,463.22 667.35,462.86 671.42,462.5 675.49,462.13 679.56,461.76 683.64,461.38 687.72,461 691.8,460.61 695.89,460.21 699.98,459.81 704.08,459.4 708.18,458.98"/><polyline points="618.05,457.29 614.93,458.46 611.82,459.62 608.7,460.78 605.58,461.94 602.47,463.1 599.35,464.26 596.23,465.42 593.11,466.57 590,467.72 586.88,468.88 583.76,470.03 580.63,471.18 577.51,472.33 574.39,473.47 571.27,474.62 568.15,475.76 565.02,476.91 561.9,478.05 558.77,479.19 555.65,480.33 552.52,481.47 549.4,482.6 546.27,483.74 543.14,484.87 540.01,486.01 536.88,487.14 533.75,488.27 530.62,489.4 527.49,490.52 524.36,491.65 521.23,492.77 518.1,493.9 514.96,495.02 511.83,496.14 508.7,497.26 505.56,498.38 502.43,499.49 499.29,500.61 496.15,501.72 493.02,502.84"/><polyline points="540.89,473.25 544.84,473.07 548.81,472.89 552.77,472.69 556.74,472.49 560.71,472.29 564.69,472.08 568.67,471.86 572.65,471.64 576.64,471.41 580.63,471.18 584.63,470.94 588.63,470.69 592.64,470.44 596.64,470.18 600.66,469.92 604.67,469.65 608.69,469.37 612.71,469.09 616.74,468.8 620.77,468.51 624.81,468.21 628.85,467.91 632.89,467.59 636.94,467.28 640.99,466.95 645.04,466.63 649.1,466.29 653.17,465.95 657.23,465.6 661.3,465.25 665.38,464.89 669.46,464.53 673.54,464.16 677.63,463.78 681.72,463.4 685.81,463.01 689.91,462.62 694.01,462.22 698.12,461.81 702.23,461.4"/><polyline points="625.93,456.75 622.82,457.91 619.72,459.08 616.61,460.25 613.51,461.42 610.4,462.58 607.29,463.74 604.18,464.9 601.07,466.06 597.96,467.22 594.85,468.38 591.74,469.54 588.63,470.69 585.52,471.85 582.41,473 579.29,474.15 576.18,475.3 573.07,476.45 569.95,477.59 566.84,478.74 563.72,479.88 560.6,481.02 557.49,482.17 554.37,483.31 551.25,484.44 548.13,485.58 545.01,486.72 541.89,487.85 538.77,488.99 535.65,490.12 532.53,491.25 529.41,492.38 526.28,493.5 523.16,494.63 520.03,495.76 516.91,496.88 513.78,498 510.66,499.12 507.53,500.24 504.4,501.36 501.28,502.48"/><polyline points="534.55,475.49 538.52,475.32 542.49,475.14 546.46,474.95 550.44,474.76 554.42,474.56 558.41,474.35 562.4,474.14 566.39,473.93 570.39,473.7 574.39,473.47 578.4,473.24 582.41,473 586.42,472.75 590.44,472.5 594.46,472.24 598.48,471.97 602.51,471.7 606.55,471.42 610.58,471.14 614.63,470.85 618.67,470.56 622.72,470.26 626.77,469.95 630.83,469.64 634.89,469.32 638.95,468.99 643.02,468.66 647.1,468.32 651.17,467.98 655.25,467.63 659.34,467.27 663.42,466.91 667.52,466.55 671.61,466.17 675.71,465.79 679.82,465.41 683.92,465.02 688.04,464.62 692.15,464.22 696.27,463.81"/><polyline points="633.83,456.18 630.73,457.35 627.64,458.52 624.54,459.7 621.44,460.87 618.34,462.04 615.25,463.2 612.15,464.37 609.05,465.54 605.95,466.7 602.85,467.86 599.75,469.02 596.64,470.18 593.54,471.34 590.44,472.5 587.33,473.65 584.23,474.81 581.13,475.96 578.02,477.11 574.91,478.26 571.81,479.41 568.7,480.56 565.59,481.7 562.48,482.85 559.38,483.99 556.27,485.13 553.16,486.27 550.05,487.41 546.93,488.55 543.82,489.68 540.71,490.82 537.6,491.95 534.48,493.09 531.37,494.22 528.25,495.35 525.14,496.47 522.02,497.6 518.91,498.72 515.79,499.85 512.67,500.97 509.55,502.09"/><polyline points="528.21,477.73 532.19,477.56 536.17,477.39 540.15,477.21 544.14,477.02 548.13,476.82 552.12,476.62 556.12,476.42 560.13,476.21 564.13,475.99 568.15,475.76 572.16,475.53 576.18,475.3 580.2,475.06 584.23,474.81 588.26,474.55 592.3,474.29 596.33,474.02 600.38,473.75 604.42,473.47 608.47,473.19 612.53,472.9 616.59,472.6 620.65,472.3 624.72,471.99 628.79,471.67 632.86,471.35 636.94,471.02 641.02,470.69 645.11,470.35 649.2,470 653.29,469.65 657.39,469.29 661.49,468.93 665.6,468.56 669.71,468.18 673.82,467.8 677.94,467.41 682.06,467.02 686.18,466.62 690.31,466.21"/><polyline points="641.74,455.59 638.65,456.77 635.57,457.94 632.48,459.12 629.39,460.3 626.31,461.47 623.22,462.64 620.13,463.81 617.04,464.98 613.95,466.15 610.86,467.32 607.76,468.48 604.67,469.65 601.58,470.81 598.48,471.97 595.39,473.13 592.3,474.29 589.2,475.45 586.1,476.6 583.01,477.76 579.91,478.91 576.81,480.06 573.72,481.21 570.62,482.36 567.52,483.51 564.42,484.66 561.32,485.8 558.21,486.94 555.11,488.09 552.01,489.23 548.91,490.36 545.8,491.5 542.7,492.64 539.59,493.77 536.49,494.91 533.38,496.04 530.28,497.17 527.17,498.3 524.06,499.43 520.95,500.55 517.84,501.68"/><polyline points="521.87,479.96 525.86,479.8 529.84,479.63 533.84,479.45 537.83,479.27 541.83,479.08 545.84,478.89 549.85,478.69 553.86,478.48 557.88,478.27 561.9,478.05 565.92,477.82 569.95,477.59 573.98,477.35 578.02,477.11 582.06,476.86 586.1,476.6 590.15,476.34 594.21,476.07 598.26,475.8 602.32,475.52 606.39,475.23 610.45,474.94 614.53,474.64 618.6,474.33 622.68,474.02 626.77,473.7 630.85,473.38 634.94,473.05 639.04,472.71 643.14,472.37 647.24,472.02 651.35,471.67 655.46,471.3 659.58,470.94 663.7,470.56 667.82,470.18 671.95,469.8 676.08,469.41 680.22,469.01 684.35,468.6"/><polyline points="649.67,454.97 646.59,456.16 643.52,457.34 640.44,458.52 637.36,459.7 634.28,460.88 631.2,462.06 628.12,463.23 625.04,464.41 621.96,465.58 618.88,466.75 615.8,467.92 612.71,469.09 609.63,470.26 606.55,471.42 603.46,472.59 600.38,473.75 597.29,474.91 594.21,476.07 591.12,477.23 588.03,478.39 584.94,479.55 581.85,480.7 578.76,481.85 575.67,483 572.58,484.15 569.49,485.3 566.4,486.45 563.31,487.6 560.22,488.74 557.12,489.88 554.03,491.03 550.93,492.17 547.84,493.3 544.74,494.44 541.65,495.58 538.55,496.71 535.45,497.84 532.35,498.98 529.25,500.11 526.15,501.24"/><polyline points="515.53,482.19 519.52,482.03 523.52,481.87 527.52,481.7 531.53,481.52 535.54,481.34 539.55,481.15 543.57,480.95 547.59,480.75 551.62,480.54 555.65,480.33 559.68,480.11 563.72,479.88 567.76,479.65 571.81,479.41 575.86,479.16 579.91,478.91 583.97,478.65 588.03,478.39 592.1,478.12 596.17,477.84 600.24,477.56 604.32,477.27 608.4,476.97 612.48,476.67 616.57,476.36 620.67,476.05 624.76,475.73 628.87,475.4 632.97,475.07 637.08,474.73 641.19,474.38 645.31,474.03 649.43,473.67 653.56,473.31 657.69,472.94 661.82,472.56 665.96,472.18 670.1,471.79 674.24,471.39 678.39,470.99"/><polyline points="657.61,454.34 654.55,455.53 651.48,456.72 648.41,457.9 645.34,459.09 642.27,460.27 639.2,461.45 636.13,462.63 633.06,463.81 629.99,464.99 626.92,466.16 623.85,467.34 620.77,468.51 617.7,469.68 614.63,470.85 611.55,472.02 608.47,473.19 605.4,474.35 602.32,475.52 599.24,476.68 596.17,477.84 593.09,479 590.01,480.16 586.93,481.32 583.85,482.47 580.77,483.63 577.68,484.78 574.6,485.93 571.52,487.08 568.44,488.23 565.35,489.38 562.27,490.52 559.18,491.67 556.1,492.81 553.01,493.95 549.92,495.09 546.84,496.23 543.75,497.36 540.66,498.5 537.57,499.63 534.48,500.76"/><polyline points="509.18,484.41 513.18,484.26 517.19,484.1 521.2,483.94 525.22,483.77 529.24,483.59 533.26,483.4 537.29,483.21 541.32,483.02 545.36,482.81 549.4,482.6 553.44,482.39 557.49,482.17 561.54,481.94 565.59,481.7 569.65,481.46 573.72,481.21 577.78,480.96 581.85,480.7 585.93,480.43 590.01,480.16 594.09,479.88 598.18,479.6 602.27,479.3 606.36,479.01 610.46,478.7 614.57,478.39 618.67,478.07 622.78,477.75 626.9,477.42 631.02,477.08 635.14,476.74 639.27,476.39 643.4,476.04 647.53,475.68 651.67,475.31 655.82,474.93 659.96,474.55 664.11,474.17 668.27,473.77 672.43,473.37"/><polyline points="665.57,453.68 662.52,454.88 659.46,456.07 656.4,457.26 653.34,458.45 650.28,459.64 647.22,460.82 644.16,462.01 641.1,463.19 638.04,464.37 634.98,465.55 631.91,466.73 628.85,467.91 625.78,469.08 622.72,470.26 619.65,471.43 616.59,472.6 613.52,473.77 610.45,474.94 607.39,476.1 604.32,477.27 601.25,478.43 598.18,479.6 595.11,480.76 592.04,481.92 588.97,483.07 585.89,484.23 582.82,485.39 579.75,486.54 576.67,487.69 573.6,488.84 570.52,489.99 567.45,491.14 564.37,492.28 561.29,493.43 558.22,494.57 555.14,495.71 552.06,496.85 548.98,497.99 545.9,499.13 542.82,500.27"/><polyline points="502.83,486.63 506.85,486.49 510.86,486.33 514.88,486.17 518.91,486.01 522.94,485.83 526.97,485.65 531.01,485.47 535.05,485.28 539.09,485.08 543.14,484.87 547.19,484.66 551.25,484.44 555.31,484.22 559.38,483.99 563.44,483.75 567.52,483.51 571.59,483.26 575.67,483 579.76,482.74 583.85,482.47 587.94,482.2 592.04,481.92 596.14,481.63 600.24,481.33 604.35,481.03 608.46,480.72 612.58,480.41 616.7,480.09 620.83,479.76 624.95,479.43 629.09,479.09 633.22,478.75 637.36,478.39 641.51,478.04 645.66,477.67 649.81,477.3 653.97,476.92 658.13,476.54 662.29,476.15 666.46,475.75"/><polyline points="673.55,453.01 670.5,454.2 667.45,455.4 664.4,456.59 661.35,457.79 658.3,458.98 655.25,460.17 652.2,461.36 649.15,462.54 646.1,463.73 643.05,464.91 639.99,466.1 636.94,467.28 633.88,468.46 630.83,469.64 627.77,470.81 624.72,471.99 621.66,473.16 618.6,474.33 615.54,475.5 612.48,476.67 609.42,477.84 606.36,479.01 603.3,480.17 600.24,481.33 597.18,482.49 594.12,483.65 591.05,484.81 587.99,485.97 584.93,487.13 581.86,488.28 578.8,489.43 575.73,490.58 572.66,491.73 569.6,492.88 566.53,494.03 563.46,495.17 560.39,496.32 557.32,497.46 554.25,498.6 551.18,499.74"/><polyline points="496.48,488.84 500.5,488.7 504.53,488.56 508.56,488.4 512.59,488.24 516.63,488.07 520.67,487.9 524.72,487.72 528.77,487.53 532.83,487.34 536.88,487.14 540.95,486.93 545.01,486.72 549.08,486.5 553.16,486.27 557.23,486.04 561.32,485.8 565.4,485.56 569.49,485.3 573.59,485.04 577.68,484.78 581.79,484.51 585.89,484.23 590,483.95 594.12,483.65 598.24,483.36 602.36,483.05 606.48,482.74 610.61,482.43 614.75,482.1 618.89,481.77 623.03,481.44 627.18,481.09 631.33,480.74 635.48,480.39 639.64,480.03 643.8,479.66 647.97,479.28 652.14,478.9 656.31,478.51 660.49,478.12"/><polyline points="681.54,452.31 678.5,453.51 675.46,454.71 672.42,455.91 669.38,457.1 666.34,458.3 663.3,459.49 660.26,460.69 657.22,461.88 654.18,463.07 651.13,464.25 648.09,465.44 645.04,466.63 642,467.81 638.95,468.99 635.91,470.17 632.86,471.35 629.81,472.53 626.77,473.7 623.72,474.88 620.67,476.05 617.62,477.22 614.57,478.39 611.52,479.56 608.46,480.72 605.41,481.89 602.36,483.05 599.3,484.22 596.25,485.38 593.2,486.53 590.14,487.69 587.08,488.85 584.03,490 580.97,491.16 577.91,492.31 574.85,493.46 571.79,494.6 568.74,495.75 565.67,496.9 562.61,498.04 559.55,499.18"/><polyline points="490.13,491.05 494.16,490.92 498.2,490.77 502.24,490.62 506.28,490.47 510.33,490.31 514.38,490.14 518.43,489.96 522.49,489.78 526.56,489.59 530.62,489.4 534.7,489.19 538.77,488.99 542.85,488.77 546.93,488.55 551.02,488.32 555.11,488.09 559.21,487.84 563.31,487.6 567.41,487.34 571.52,487.08 575.63,486.81 579.75,486.54 583.87,486.26 587.99,485.97 592.12,485.68 596.25,485.38 600.39,485.07 604.53,484.76 608.67,484.43 612.82,484.11 616.97,483.77 621.13,483.43 625.29,483.09 629.45,482.73 633.62,482.37 637.79,482.01 641.97,481.64 646.15,481.26 650.33,480.87 654.52,480.48"/><polyline points="689.54,451.59 686.52,452.79 683.49,453.99 680.46,455.2 677.43,456.4 674.4,457.6 671.37,458.8 668.33,459.99 665.3,461.19 662.27,462.38 659.24,463.57 656.2,464.76 653.17,465.95 650.13,467.14 647.1,468.32 644.06,469.51 641.02,470.69 637.98,471.87 634.94,473.05 631.91,474.23 628.87,475.4 625.83,476.58 622.78,477.75 619.74,478.92 616.7,480.09 613.66,481.26 610.61,482.43 607.57,483.59 604.53,484.76 601.48,485.92 598.44,487.08 595.39,488.24 592.34,489.39 589.29,490.55 586.25,491.7 583.2,492.86 580.15,494.01 577.1,495.16 574.05,496.31 571,497.45 567.94,498.6"/><polyline points="483.78,493.26 487.82,493.13 491.86,492.99 495.91,492.84 499.96,492.69 504.02,492.54 508.08,492.37 512.14,492.2 516.21,492.02 520.29,491.84 524.36,491.65 528.44,491.45 532.53,491.25 536.62,491.04 540.71,490.82 544.81,490.6 548.91,490.36 553.01,490.13 557.12,489.88 561.23,489.63 565.35,489.38 569.47,489.11 573.6,488.84 577.73,488.56 581.86,488.28 586,487.99 590.14,487.69 594.29,487.39 598.44,487.08 602.59,486.76 606.75,486.44 610.91,486.11 615.07,485.77 619.24,485.43 623.42,485.07 627.6,484.72 631.78,484.35 635.96,483.98 640.15,483.61 644.35,483.22 648.54,482.83"/><polyline points="697.56,450.84 694.55,452.05 691.53,453.26 688.51,454.47 685.49,455.67 682.47,456.87 679.45,458.07 676.42,459.27 673.4,460.47 670.38,461.67 667.35,462.86 664.33,464.06 661.3,465.25 658.28,466.44 655.25,467.63 652.22,468.82 649.2,470 646.17,471.19 643.14,472.37 640.11,473.55 637.08,474.73 634.05,475.91 631.02,477.08 627.99,478.26 624.95,479.43 621.92,480.6 618.89,481.77 615.85,482.94 612.82,484.11 609.78,485.27 606.75,486.44 603.71,487.6 600.67,488.76 597.63,489.92 594.6,491.08 591.56,492.23 588.52,493.39 585.48,494.54 582.43,495.69 579.39,496.84 576.35,497.99"/><polyline points="477.42,495.45 481.47,495.33 485.52,495.2 489.58,495.06 493.64,494.91 497.71,494.76 501.78,494.6 505.85,494.44 509.93,494.26 514.01,494.08 518.1,493.9 522.19,493.7 526.28,493.5 530.38,493.3 534.48,493.09 538.59,492.87 542.7,492.64 546.81,492.41 550.93,492.17 555.06,491.92 559.18,491.67 563.31,491.4 567.45,491.14 571.59,490.86 575.73,490.58 579.88,490.3 584.03,490 588.18,489.7 592.34,489.39 596.51,489.08 600.67,488.76 604.84,488.43 609.02,488.1 613.2,487.76 617.38,487.41 621.57,487.05 625.76,486.69 629.96,486.32 634.16,485.95 638.36,485.57 642.57,485.18"/><polyline points="705.6,450.08 702.59,451.29 699.58,452.5 696.57,453.71 693.56,454.92 690.55,456.13 687.54,457.33 684.53,458.53 681.51,459.74 678.5,460.94 675.49,462.13 672.47,463.33 669.46,464.53 666.44,465.72 663.42,466.91 660.41,468.1 657.39,469.29 654.37,470.48 651.35,471.67 648.33,472.85 645.31,474.03 642.29,475.21 639.27,476.39 636.25,477.57 633.22,478.75 630.2,479.92 627.18,481.09 624.15,482.26 621.13,483.43 618.1,484.6 615.07,485.77 612.05,486.93 609.02,488.1 605.99,489.26 602.96,490.42 599.93,491.58 596.9,492.73 593.87,493.89 590.84,495.04 587.81,496.19 584.77,497.35"/><polyline points="471.06,497.65 475.12,497.53 479.18,497.4 483.25,497.27 487.32,497.13 491.39,496.98 495.47,496.83 499.56,496.66 503.64,496.5 507.74,496.32 511.83,496.14 515.93,495.95 520.03,495.76 524.14,495.55 528.25,495.35 532.37,495.13 536.49,494.91 540.61,494.68 544.74,494.44 548.87,494.2 553.01,493.95 557.15,493.69 561.29,493.43 565.44,493.16 569.6,492.88 573.75,492.6 577.91,492.31 582.08,492.01 586.25,491.7 590.42,491.39 594.6,491.08 598.78,490.75 602.96,490.42 607.15,490.08 611.34,489.73 615.54,489.38 619.74,489.02 623.95,488.66 628.16,488.29 632.37,487.91 636.59,487.52"/><polyline points="713.65,449.29 710.65,450.51 707.65,451.72 704.65,452.94 701.65,454.15 698.65,455.36 695.65,456.56 692.65,457.77 689.64,458.98 686.64,460.18 683.64,461.38 680.63,462.58 677.63,463.78 674.62,464.98 671.61,466.17 668.6,467.37 665.6,468.56 662.59,469.75 659.58,470.94 656.57,472.12 653.56,473.31 650.55,474.49 647.53,475.68 644.52,476.86 641.51,478.04 638.5,479.21 635.48,480.39 632.47,481.56 629.45,482.73 626.43,483.91 623.42,485.07 620.4,486.24 617.38,487.41 614.36,488.57 611.34,489.73 608.32,490.9 605.3,492.06 602.28,493.21 599.26,494.37 596.24,495.52 593.21,496.68"/><polyline points="464.7,499.84 468.77,499.72 472.84,499.6 476.91,499.47 480.99,499.34 485.08,499.19 489.17,499.04 493.26,498.89 497.36,498.72 501.46,498.55 505.56,498.38 509.67,498.19 513.78,498 517.9,497.8 522.02,497.6 526.15,497.39 530.28,497.17 534.41,496.94 538.55,496.71 542.69,496.47 546.84,496.23 550.98,495.97 555.14,495.71 559.3,495.45 563.46,495.17 567.62,494.89 571.79,494.6 575.97,494.31 580.15,494.01 584.33,493.7 588.52,493.39 592.71,493.06 596.9,492.73 601.1,492.4 605.3,492.06 609.51,491.71 613.72,491.35 617.94,490.99 622.16,490.61 626.38,490.24 630.61,489.85"/><polyline points="721.72,448.48 718.73,449.7 715.74,450.92 712.75,452.14 709.76,453.35 706.77,454.56 703.78,455.78 700.78,456.99 697.79,458.19 694.8,459.4 691.8,460.61 688.81,461.81 685.81,463.01 682.81,464.21 679.82,465.41 676.82,466.6 673.82,467.8 670.82,468.99 667.82,470.18 664.82,471.37 661.82,472.56 658.82,473.75 655.82,474.93 652.81,476.12 649.81,477.3 646.81,478.48 643.8,479.66 640.8,480.83 637.79,482.01 634.78,483.18 631.78,484.35 628.77,485.52 625.76,486.69 622.75,487.86 619.74,489.02 616.73,490.19 613.72,491.35 610.71,492.51 607.7,493.67 604.68,494.82 601.67,495.98"/><polyline points="458.33,502.02 462.41,501.91 466.49,501.79 470.58,501.67 474.67,501.54 478.76,501.4 482.86,501.26 486.96,501.11 491.07,500.95 495.18,500.78 499.29,500.61 503.41,500.43 507.53,500.24 511.66,500.05 515.79,499.85 519.92,499.64 524.06,499.43 528.21,499.21 532.35,498.98 536.5,498.74 540.66,498.5 544.82,498.25 548.98,497.99 553.15,497.73 557.32,497.46 561.5,497.18 565.67,496.9 569.86,496.61 574.05,496.31 578.24,496 582.43,495.69 586.64,495.37 590.84,495.04 595.05,494.71 599.26,494.37 603.48,494.02 607.7,493.67 611.92,493.31 616.15,492.94 620.38,492.56 624.62,492.18"/><polyline points="729.8,447.65 726.82,448.87 723.84,450.1 720.86,451.32 717.88,452.53 714.9,453.75 711.92,454.96 708.93,456.18 705.95,457.39 702.97,458.6 699.98,459.81 697,461.01 694.01,462.22 691.02,463.42 688.04,464.62 685.05,465.82 682.06,467.02 679.07,468.21 676.08,469.41 673.09,470.6 670.1,471.79 667.11,472.98 664.11,474.17 661.12,475.35 658.13,476.54 655.13,477.72 652.14,478.9 649.14,480.08 646.15,481.26 643.15,482.43 640.15,483.61 637.15,484.78 634.16,485.95 631.16,487.12 628.16,488.29 625.16,489.45 622.16,490.61 619.15,491.78 616.15,492.94 613.15,494.1 610.14,495.25"/><polyline points="451.97,504.2 456.05,504.1 460.14,503.98 464.24,503.87 468.34,503.74 472.44,503.61 476.55,503.47 480.66,503.32 484.77,503.17 488.89,503 493.02,502.84 497.15,502.66 501.28,502.48 505.41,502.29 509.55,502.09 513.7,501.89 517.84,501.68 522,501.46 526.15,501.24 530.31,501 534.48,500.76 538.65,500.52 542.82,500.27 547,500.01 551.18,499.74 555.36,499.46 559.55,499.18 563.75,498.89 567.94,498.6 572.15,498.3 576.35,497.99 580.56,497.67 584.77,497.35 588.99,497.01 593.21,496.68 597.44,496.33 601.67,495.98 605.91,495.62 610.14,495.25 614.39,494.88 618.63,494.5"/><polyline points="737.9,446.8 734.93,448.03 731.96,449.25 728.99,450.47 726.02,451.69 723.05,452.91 720.07,454.13 717.1,455.35 714.13,456.56 711.15,457.77 708.18,458.98 705.2,460.19 702.23,461.4 699.25,462.6 696.27,463.81 693.29,465.01 690.31,466.21 687.33,467.41 684.35,468.6 681.37,469.8 678.39,470.99 675.41,472.18 672.43,473.37 669.44,474.56 666.46,475.75 663.48,476.93 660.49,478.12 657.51,479.3 654.52,480.48 651.53,481.66 648.54,482.83 645.56,484.01 642.57,485.18 639.58,486.35 636.59,487.52 633.6,488.69 630.61,489.85 627.61,491.02 624.62,492.18 621.63,493.34 618.63,494.5"/></g>
<g class="dt"><circle cx="457.4" cy="605.8" r="1.1"/><circle cx="730.2" cy="589" r="1.1"/><circle cx="497.45" cy="621.1" r="1.1"/><circle cx="702.05" cy="608.5" r="1.1"/><circle cx="537.5" cy="636.4" r="1.1"/><circle cx="673.9" cy="628" r="1.1"/><circle cx="577.55" cy="651.7" r="1.1"/><circle cx="645.75" cy="647.5" r="1.1"/><circle cx="617.6" cy="667" r="1.1"/><circle cx="617.6" cy="667" r="1.1"/></g>
<g class="pt"><circle cx="452.9" cy="517.7" r="2.8"/><circle cx="738" cy="436" r="2.8"/><circle cx="595.9" cy="431.3" r="2.8"/><circle cx="595.9" cy="458.4" r="2.8"/><circle cx="595.9" cy="461" r="2.8"/><circle cx="595.9" cy="472.7" r="2.8"/><circle cx="596.1" cy="552.7" r="2.8"/></g>
<g class="tk" font-size="11.3"><text transform="translate(442 419.27) scale(1.02 1.05)" text-anchor="end">61</text><text transform="translate(443.11 439.97) scale(1.02 1.05)" text-anchor="end">60</text><text transform="translate(444.21 460.67) scale(1.02 1.05)" text-anchor="end">59</text><text transform="translate(445.32 481.37) scale(1.02 1.05)" text-anchor="end">58</text><text transform="translate(446.43 502.07) scale(1.02 1.05)" text-anchor="end">57</text><text transform="translate(447.53 522.77) scale(1.02 1.05)" text-anchor="end">56</text><text transform="translate(448.64 543.47) scale(1.02 1.05)" text-anchor="end">55</text><text transform="translate(449.75 564.17) scale(1.02 1.05)" text-anchor="end">54</text><text transform="translate(454.9 619.77) scale(1.02 1.05)" text-anchor="end">-1</text><text transform="translate(733.2 599.87) scale(1.02 1.05)" text-anchor="start">-1</text><text transform="translate(494.95 635.07) scale(1.02 1.05)" text-anchor="end">-0.5</text><text transform="translate(705.05 619.37) scale(1.02 1.05)" text-anchor="start">-0.5</text><text transform="translate(535 650.37) scale(1.02 1.05)" text-anchor="end">0</text><text transform="translate(676.9 638.87) scale(1.02 1.05)" text-anchor="start">0</text><text transform="translate(575.05 665.67) scale(1.02 1.05)" text-anchor="end">0.5</text><text transform="translate(648.75 658.37) scale(1.02 1.05)" text-anchor="start">0.5</text><text transform="translate(615.1 680.97) scale(1.02 1.05)" text-anchor="end">1</text><text transform="translate(620.6 677.87) scale(1.02 1.05)" text-anchor="start">1</text></g>
<g class="tt"><text transform="translate(414.8 506.6) rotate(-90) scale(1 1.03)" text-anchor="middle" font-size="13.7">L Value</text><text transform="translate(527.2 673.1) rotate(20.75) scale(1 1.03)" text-anchor="middle" font-size="13.7">B: Blanching Time (Min)</text><text transform="translate(702.39 655.18) rotate(-34.7) scale(1 1.03)" text-anchor="middle" font-size="13.7">A: Blanching Temp. (C)</text></g>
<text class="pn" x="411" y="423.8">d</text>
</g>
<g id="plot-e">
<g class="ln"><line x1="248.4" y1="965.2" x2="243.4" y2="728.75"/><line x1="364.3" y1="916.7" x2="362.9" y2="713.7"/><line x1="555.2" y1="939.5" x2="560.3" y2="720.6"/><line x1="243.4" y1="728.75" x2="362.9" y2="713.7"/><line x1="362.9" y1="713.7" x2="560.3" y2="720.6"/><line x1="248.4" y1="965.2" x2="364.3" y2="916.7"/><line x1="364.3" y1="916.7" x2="555.2" y2="939.5"/><line x1="248.4" y1="965.2" x2="464.2" y2="997.3"/><line x1="464.2" y1="997.3" x2="555.2" y2="939.5"/><polyline points="247.18,907.6 363.96,867.25 556.44,886.18"/><polyline points="246.55,877.79 363.78,841.66 557.09,858.58"/><polyline points="245.92,847.98 363.61,816.07 557.73,830.98"/><polyline points="245.29,818.17 363.43,790.47 558.37,803.39"/><polyline points="244.66,788.37 363.25,764.88 559.01,775.79"/><polyline points="244.03,758.56 363.08,739.29 559.66,748.2"/><line x1="276.38" y1="897.51" x2="273.27" y2="724.99"/><line x1="305.57" y1="887.42" x2="303.15" y2="721.23"/><line x1="334.76" y1="877.34" x2="333.02" y2="717.46"/><line x1="412.08" y1="871.98" x2="412.25" y2="715.43"/><line x1="460.2" y1="876.71" x2="461.6" y2="717.15"/><line x1="508.32" y1="881.44" x2="510.95" y2="718.88"/></g>
<g class="pt"><circle cx="408" cy="787.4" r="2.9"/></g>
<g class="ms"><polyline points="363.08,739.91 368.01,742.5 372.93,745.13 377.86,747.79 382.77,750.49 387.69,753.23 392.6,756 397.5,758.81 402.4,761.65 407.3,764.53 412.19,767.44 417.08,770.39 421.97,773.38 426.85,776.4 431.72,779.46 436.6,782.56 441.46,785.69 446.33,788.87 451.18,792.08 456.04,795.32 460.89,798.61 465.73,801.93 470.57,805.29 475.4,808.69 480.23,812.12 485.05,815.6 489.87,819.11 494.69,822.66 499.5,826.25 504.3,829.88 509.1,833.55 513.89,837.26 518.67,841.01 523.46,844.8 528.23,848.62 533,852.49 537.77,856.4 542.52,860.35 547.28,864.33 552.02,868.36 556.76,872.43"/><polyline points="363.08,739.91 360.11,741.46 357.15,743.03 354.18,744.61 351.21,746.21 348.25,747.83 345.29,749.47 342.33,751.12 339.36,752.79 336.4,754.47 333.45,756.18 330.49,757.9 327.53,759.64 324.58,761.39 321.62,763.17 318.67,764.96 315.72,766.77 312.77,768.6 309.82,770.44 306.87,772.31 303.92,774.19 300.98,776.09 298.03,778.01 295.09,779.94 292.14,781.9 289.2,783.87 286.26,785.86 283.32,787.88 280.39,789.91 277.45,791.96 274.52,794.03 271.58,796.11 268.65,798.22 265.72,800.35 262.79,802.5 259.86,804.66 256.93,806.85 254.01,809.05 251.08,811.28 248.16,813.52 245.24,815.79"/><polyline points="357.15,743.03 362.11,745.46 367.06,747.93 372.01,750.43 376.96,752.97 381.91,755.54 386.85,758.15 391.79,760.79 396.72,763.47 401.66,766.18 406.58,768.93 411.51,771.72 416.43,774.54 421.34,777.4 426.25,780.29 431.16,783.23 436.06,786.19 440.96,789.2 445.85,792.24 450.74,795.32 455.63,798.44 460.51,801.59 465.39,804.78 470.26,808.01 475.12,811.28 479.99,814.59 484.84,817.93 489.7,821.31 494.54,824.73 499.39,828.19 504.22,831.69 509.05,835.23 513.88,838.81 518.7,842.42 523.52,846.08 528.33,849.77 533.14,853.51 537.94,857.28 542.73,861.1 547.52,864.95 552.3,868.85"/><polyline points="372.93,745.13 370,746.52 367.06,747.93 364.13,749.35 361.19,750.79 358.26,752.24 355.33,753.7 352.39,755.19 349.46,756.69 346.53,758.2 343.6,759.73 340.68,761.28 337.75,762.84 334.82,764.42 331.9,766.01 328.97,767.62 326.05,769.25 323.13,770.89 320.21,772.55 317.28,774.23 314.37,775.92 311.45,777.63 308.53,779.36 305.61,781.1 302.7,782.87 299.78,784.65 296.87,786.44 293.96,788.25 291.05,790.09 288.14,791.93 285.23,793.8 282.32,795.69 279.41,797.59 276.51,799.51 273.6,801.45 270.7,803.4 267.8,805.38 264.9,807.37 262,809.38 259.1,811.41 256.2,813.46"/><polyline points="351.21,746.21 356.2,748.48 361.19,750.79 366.18,753.12 371.16,755.49 376.13,757.9 381.11,760.34 386.08,762.82 391.05,765.33 396.01,767.88 400.97,770.46 405.93,773.08 410.88,775.73 415.83,778.42 420.78,781.15 425.72,783.91 430.66,786.71 435.59,789.55 440.52,792.42 445.45,795.33 450.37,798.27 455.29,801.25 460.2,804.27 465.11,807.33 470.01,810.43 474.91,813.56 479.81,816.73 484.7,819.94 489.59,823.19 494.47,826.47 499.34,829.8 504.22,833.16 509.08,836.56 513.94,840 518.8,843.48 523.65,847 528.5,850.56 533.34,854.16 538.18,857.8 543.01,861.48 547.83,865.2"/><polyline points="382.77,750.49 379.87,751.72 376.96,752.97 374.06,754.22 371.16,755.49 368.25,756.78 365.35,758.08 362.45,759.39 359.55,760.72 356.65,762.06 353.75,763.41 350.86,764.78 347.96,766.17 345.06,767.57 342.17,768.98 339.27,770.41 336.38,771.85 333.48,773.31 330.59,774.79 327.7,776.28 324.81,777.78 321.92,779.3 319.03,780.83 316.14,782.38 313.25,783.95 310.36,785.53 307.48,787.13 304.59,788.74 301.71,790.37 298.83,792.02 295.94,793.68 293.06,795.36 290.18,797.06 287.3,798.77 284.42,800.5 281.54,802.24 278.67,804 275.79,805.78 272.92,807.58 270.04,809.39 267.17,811.22"/><polyline points="345.29,749.47 350.31,751.57 355.33,753.7 360.34,755.87 365.35,758.08 370.36,760.32 375.37,762.59 380.37,764.9 385.37,767.24 390.37,769.62 395.36,772.03 400.35,774.47 405.34,776.96 410.32,779.48 415.3,782.03 420.28,784.62 425.25,787.24 430.22,789.91 435.19,792.6 440.15,795.34 445.11,798.11 450.06,800.92 455.01,803.76 459.96,806.64 464.9,809.56 469.84,812.52 474.77,815.51 479.7,818.55 484.62,821.62 489.54,824.72 494.46,827.87 499.37,831.06 504.28,834.28 509.18,837.54 514.08,840.84 518.97,844.18 523.86,847.56 528.74,850.98 533.62,854.44 538.49,857.93 543.36,861.47"/><polyline points="392.6,756 389.72,757.07 386.85,758.15 383.98,759.24 381.11,760.34 378.24,761.46 375.37,762.59 372.5,763.73 369.63,764.89 366.76,766.05 363.89,767.23 361.03,768.43 358.16,769.63 355.29,770.85 352.43,772.08 349.56,773.33 346.7,774.59 343.83,775.86 340.97,777.14 338.11,778.44 335.25,779.76 332.39,781.09 329.52,782.43 326.66,783.78 323.8,785.15 320.95,786.54 318.09,787.93 315.23,789.35 312.37,790.78 309.52,792.22 306.66,793.67 303.81,795.15 300.95,796.63 298.1,798.13 295.25,799.65 292.4,801.18 289.55,802.73 286.7,804.29 283.85,805.87 281,807.47 278.15,809.08"/><polyline points="339.36,752.79 344.42,754.72 349.46,756.69 354.51,758.69 359.55,760.72 364.59,762.78 369.63,764.89 374.67,767.02 379.7,769.19 384.73,771.39 389.75,773.63 394.78,775.9 399.8,778.21 404.81,780.55 409.83,782.93 414.84,785.35 419.85,787.8 424.85,790.28 429.85,792.8 434.85,795.36 439.84,797.95 444.83,800.58 449.82,803.25 454.8,805.95 459.78,808.69 464.76,811.47 469.73,814.28 474.69,817.13 479.66,820.02 484.62,822.95 489.57,825.91 494.52,828.92 499.47,831.96 504.41,835.04 509.35,838.15 514.28,841.31 519.21,844.51 524.13,847.74 529.05,851.01 533.96,854.33 538.87,857.68"/><polyline points="402.4,761.65 399.56,762.55 396.72,763.47 393.89,764.4 391.05,765.33 388.21,766.28 385.37,767.24 382.53,768.21 379.7,769.19 376.86,770.18 374.02,771.18 371.19,772.2 368.35,773.23 365.52,774.26 362.68,775.31 359.85,776.37 357.01,777.45 354.18,778.53 351.35,779.63 348.51,780.74 345.68,781.86 342.85,783 340.02,784.14 337.19,785.3 334.36,786.47 331.53,787.66 328.7,788.85 325.87,790.07 323.04,791.29 320.21,792.53 317.39,793.78 314.56,795.04 311.73,796.32 308.91,797.61 306.08,798.91 303.26,800.23 300.43,801.56 297.61,802.9 294.79,804.26 291.97,805.64 289.15,807.03"/><polyline points="333.45,756.18 338.53,757.94 343.6,759.73 348.68,761.56 353.75,763.41 358.83,765.31 363.89,767.23 368.96,769.19 374.02,771.18 379.09,773.21 384.14,775.27 389.2,777.37 394.25,779.5 399.31,781.66 404.35,783.86 409.4,786.1 414.44,788.37 419.48,790.67 424.51,793.01 429.55,795.39 434.58,797.8 439.6,800.25 444.62,802.73 449.64,805.25 454.66,807.81 459.67,810.4 464.68,813.03 469.68,815.7 474.68,818.41 479.68,821.15 484.68,823.93 489.66,826.74 494.65,829.6 499.63,832.49 504.61,835.42 509.58,838.39 514.55,841.4 519.51,844.44 524.47,847.53 529.43,850.65 534.38,853.82"/><polyline points="412.19,767.44 409.39,768.18 406.58,768.93 403.78,769.69 400.97,770.46 398.17,771.24 395.36,772.03 392.56,772.82 389.75,773.63 386.95,774.45 384.14,775.27 381.34,776.11 378.54,776.95 375.73,777.81 372.93,778.68 370.13,779.55 367.32,780.44 364.52,781.33 361.72,782.24 358.92,783.16 356.11,784.09 353.31,785.03 350.51,785.98 347.71,786.94 344.91,787.91 342.11,788.9 339.31,789.89 336.51,790.9 333.71,791.92 330.91,792.95 328.11,793.99 325.32,795.04 322.52,796.11 319.72,797.18 316.92,798.27 314.13,799.37 311.33,800.49 308.53,801.61 305.74,802.75 302.94,803.9 300.15,805.07"/><polyline points="327.53,759.64 332.64,761.22 337.75,762.84 342.85,764.49 347.96,766.17 353.06,767.88 358.16,769.63 363.26,771.41 368.35,773.23 373.45,775.07 378.54,776.95 383.63,778.87 388.71,780.82 393.8,782.8 398.88,784.82 403.95,786.87 409.03,788.96 414.1,791.08 419.17,793.24 424.24,795.43 429.31,797.66 434.37,799.92 439.43,802.22 444.48,804.55 449.53,806.92 454.58,809.33 459.63,811.77 464.67,814.25 469.71,816.77 474.74,819.32 479.77,821.91 484.8,824.54 489.83,827.2 494.85,829.91 499.86,832.65 504.88,835.42 509.89,838.24 514.89,841.09 519.89,843.99 524.89,846.92 529.88,849.89"/><polyline points="421.97,773.38 419.2,773.96 416.43,774.54 413.65,775.13 410.88,775.73 408.11,776.34 405.34,776.96 402.57,777.58 399.8,778.21 397.03,778.85 394.25,779.5 391.48,780.15 388.71,780.82 385.94,781.49 383.17,782.17 380.4,782.86 377.63,783.56 374.86,784.27 372.08,784.98 369.31,785.71 366.54,786.44 363.77,787.19 361,787.94 358.23,788.7 355.46,789.48 352.69,790.26 349.92,791.05 347.15,791.85 344.38,792.66 341.61,793.48 338.84,794.31 336.07,795.16 333.31,796.01 330.54,796.87 327.77,797.74 325,798.63 322.23,799.52 319.46,800.43 316.7,801.34 313.93,802.27 311.16,803.21"/><polyline points="321.62,763.17 326.76,764.57 331.9,766.01 337.03,767.48 342.17,768.98 347.3,770.52 352.43,772.08 357.56,773.68 362.68,775.31 367.81,776.98 372.93,778.68 378.05,780.41 383.17,782.17 388.29,783.97 393.4,785.8 398.51,787.67 403.62,789.57 408.73,791.51 413.83,793.47 418.93,795.48 424.03,797.52 429.13,799.59 434.22,801.7 439.32,803.85 444.4,806.03 449.49,808.24 454.57,810.5 459.65,812.78 464.73,815.11 469.8,817.47 474.87,819.87 479.94,822.3 485,824.77 490.06,827.28 495.11,829.83 500.17,832.41 505.21,835.03 510.26,837.69 515.3,840.38 520.34,843.12 525.37,845.89"/><polyline points="431.72,779.46 428.99,779.88 426.25,780.29 423.51,780.72 420.78,781.15 418.04,781.59 415.3,782.03 412.57,782.48 409.83,782.93 407.09,783.39 404.35,783.86 401.61,784.34 398.88,784.82 396.14,785.31 393.4,785.8 390.66,786.31 387.92,786.81 385.18,787.33 382.44,787.86 379.71,788.39 376.97,788.93 374.23,789.47 371.49,790.03 368.75,790.59 366.01,791.16 363.27,791.74 360.53,792.33 357.79,792.92 355.05,793.52 352.31,794.13 349.57,794.75 346.84,795.38 344.1,796.02 341.36,796.67 338.62,797.32 335.88,797.99 333.14,798.66 330.4,799.34 327.66,800.04 324.92,800.74 322.19,801.45"/><polyline points="315.72,766.77 320.88,767.99 326.05,769.25 331.21,770.54 336.38,771.85 341.54,773.2 346.7,774.59 351.86,776 357.01,777.45 362.17,778.93 367.32,780.44 372.48,781.98 377.63,783.56 382.78,785.17 387.92,786.81 393.07,788.49 398.21,790.2 403.35,791.95 408.49,793.73 413.63,795.54 418.76,797.39 423.89,799.27 429.02,801.19 434.15,803.14 439.27,805.13 444.39,807.15 449.51,809.21 454.63,811.3 459.74,813.43 464.85,815.59 469.96,817.79 475.06,820.03 480.16,822.31 485.26,824.62 490.36,826.96 495.45,829.35 500.54,831.77 505.62,834.23 510.7,836.72 515.78,839.26 520.86,841.83"/><polyline points="441.46,785.69 438.76,785.94 436.06,786.19 433.36,786.45 430.66,786.71 427.96,786.97 425.25,787.24 422.55,787.52 419.85,787.8 417.14,788.08 414.44,788.37 411.74,788.66 409.03,788.96 406.33,789.26 403.62,789.57 400.92,789.88 398.21,790.2 395.5,790.53 392.8,790.86 390.09,791.2 387.38,791.54 384.68,791.89 381.97,792.24 379.26,792.6 376.56,792.97 373.85,793.34 371.14,793.72 368.43,794.11 365.72,794.5 363.02,794.9 360.31,795.31 357.6,795.73 354.89,796.15 352.18,796.58 349.47,797.01 346.76,797.46 344.06,797.91 341.35,798.37 338.64,798.83 335.93,799.31 333.22,799.79"/><polyline points="309.82,770.44 315.01,771.48 320.21,772.55 325.4,773.65 330.59,774.79 335.78,775.95 340.97,777.14 346.16,778.37 351.35,779.63 356.53,780.92 361.72,782.24 366.9,783.6 372.08,784.98 377.27,786.4 382.44,787.86 387.62,789.34 392.8,790.86 397.97,792.41 403.14,794 408.31,795.62 413.48,797.27 418.65,798.96 423.81,800.68 428.97,802.43 434.13,804.22 439.29,806.05 444.45,807.91 449.6,809.8 454.75,811.73 459.9,813.7 465.04,815.7 470.18,817.73 475.32,819.81 480.46,821.92 485.59,824.06 490.73,826.24 495.85,828.46 500.98,830.71 506.1,833.01 511.22,835.34 516.33,837.7"/><polyline points="451.18,792.08 448.52,792.16 445.85,792.24 443.19,792.33 440.52,792.42 437.86,792.51 435.19,792.6 432.52,792.7 429.85,792.8 427.18,792.91 424.51,793.01 421.84,793.12 419.17,793.24 416.5,793.35 413.83,793.47 411.16,793.6 408.49,793.73 405.82,793.86 403.14,794 400.47,794.14 397.8,794.28 395.12,794.43 392.45,794.59 389.77,794.74 387.1,794.91 384.42,795.07 381.75,795.25 379.07,795.42 376.4,795.61 373.72,795.79 371.04,795.99 368.37,796.19 365.69,796.39 363.01,796.6 360.33,796.81 357.65,797.03 354.98,797.26 352.3,797.49 349.62,797.73 346.94,797.98 344.26,798.23"/><polyline points="303.92,774.19 309.14,775.04 314.37,775.92 319.59,776.84 324.81,777.78 330.03,778.75 335.25,779.76 340.46,780.79 345.68,781.86 350.9,782.96 356.11,784.09 361.33,785.25 366.54,786.44 371.76,787.67 376.97,788.93 382.18,790.22 387.38,791.54 392.59,792.89 397.8,794.28 403,795.7 408.2,797.16 413.4,798.65 418.6,800.17 423.8,801.72 428.99,803.31 434.19,804.94 439.38,806.59 444.57,808.29 449.75,810.01 454.94,811.78 460.12,813.57 465.3,815.41 470.48,817.27 475.65,819.18 480.83,821.12 486,823.09 491.16,825.1 496.33,827.15 501.49,829.23 506.65,831.36 511.8,833.51"/><polyline points="460.89,798.61 458.26,798.52 455.63,798.44 453,798.35 450.37,798.27 447.74,798.19 445.11,798.11 442.48,798.03 439.84,797.95 437.21,797.88 434.58,797.8 431.94,797.73 429.31,797.66 426.67,797.59 424.03,797.52 421.4,797.45 418.76,797.39 416.12,797.33 413.48,797.27 410.84,797.21 408.2,797.16 405.56,797.11 402.92,797.06 400.28,797.01 397.64,796.97 395,796.93 392.35,796.89 389.71,796.86 387.07,796.83 384.42,796.8 381.78,796.78 379.13,796.76 376.49,796.75 373.84,796.74 371.19,796.73 368.55,796.73 365.9,796.73 363.25,796.73 360.6,796.74 357.96,796.76 355.31,796.77"/><polyline points="298.03,778.01 303.28,778.67 308.53,779.36 313.78,780.08 319.03,780.83 324.28,781.62 329.52,782.43 334.77,783.27 340.02,784.14 345.27,785.04 350.51,785.98 355.76,786.94 361,787.94 366.25,788.97 371.49,790.03 376.73,791.12 381.97,792.24 387.21,793.4 392.45,794.59 397.69,795.81 402.92,797.06 408.16,798.34 413.39,799.66 418.62,801.01 423.85,802.4 429.08,803.82 434.31,805.27 439.53,806.76 444.75,808.28 449.98,809.83 455.19,811.42 460.41,813.05 465.63,814.71 470.84,816.4 476.05,818.13 481.26,819.9 486.46,821.7 491.67,823.53 496.87,825.41 502.07,827.31 507.26,829.26"/><polyline points="470.57,805.29 467.98,805.04 465.39,804.78 462.79,804.53 460.2,804.27 457.61,804.02 455.01,803.76 452.42,803.51 449.82,803.25 447.22,802.99 444.62,802.73 442.03,802.48 439.43,802.22 436.83,801.96 434.22,801.7 431.62,801.44 429.02,801.19 426.42,800.93 423.81,800.68 421.21,800.42 418.6,800.17 416,799.91 413.39,799.66 410.78,799.41 408.17,799.16 405.57,798.91 402.96,798.67 400.35,798.42 397.74,798.18 395.12,797.94 392.51,797.7 389.9,797.46 387.29,797.22 384.67,796.99 382.06,796.76 379.44,796.53 376.83,796.3 374.21,796.08 371.6,795.86 368.98,795.64 366.36,795.43"/><polyline points="292.14,781.9 297.42,782.37 302.7,782.87 307.97,783.39 313.25,783.95 318.53,784.54 323.8,785.15 329.08,785.8 334.36,786.47 339.63,787.18 344.91,787.91 350.19,788.68 355.46,789.48 360.74,790.3 366.01,791.16 371.28,792.05 376.56,792.97 381.83,793.92 387.1,794.91 392.37,795.92 397.64,796.97 402.91,798.05 408.17,799.16 413.44,800.31 418.7,801.49 423.97,802.7 429.23,803.94 434.49,805.22 439.75,806.53 445.01,807.87 450.26,809.25 455.52,810.67 460.77,812.11 466.02,813.59 471.27,815.11 476.52,816.66 481.76,818.25 487,819.87 492.24,821.52 497.48,823.22 502.72,824.94"/><polyline points="480.23,812.12 477.68,811.7 475.12,811.28 472.57,810.85 470.01,810.43 467.46,810 464.9,809.56 462.34,809.13 459.78,808.69 457.22,808.25 454.66,807.81 452.1,807.37 449.53,806.92 446.97,806.48 444.4,806.03 441.84,805.58 439.27,805.13 436.7,804.68 434.13,804.22 431.56,803.77 428.99,803.31 426.42,802.86 423.85,802.4 421.28,801.94 418.7,801.49 416.13,801.03 413.56,800.57 410.98,800.11 408.4,799.65 405.82,799.19 403.25,798.74 400.67,798.28 398.09,797.82 395.51,797.36 392.93,796.91 390.34,796.45 387.76,795.99 385.18,795.54 382.59,795.09 380.01,794.63 377.42,794.18"/><polyline points="286.26,785.86 291.57,786.14 296.87,786.44 302.17,786.77 307.48,787.13 312.78,787.52 318.09,787.93 323.39,788.38 328.7,788.85 334,789.36 339.31,789.89 344.62,790.46 349.92,791.05 355.23,791.67 360.53,792.33 365.84,793.01 371.14,793.72 376.44,794.47 381.75,795.25 387.05,796.05 392.35,796.89 397.66,797.76 402.96,798.67 408.26,799.6 413.56,800.57 418.85,801.57 424.15,802.6 429.45,803.66 434.74,804.76 440.04,805.89 445.33,807.06 450.62,808.25 455.91,809.49 461.2,810.75 466.48,812.05 471.77,813.38 477.05,814.75 482.33,816.15 487.61,817.59 492.89,819.06 498.16,820.57"/><polyline points="489.87,819.11 487.36,818.52 484.84,817.93 482.33,817.33 479.81,816.73 477.29,816.12 474.77,815.51 472.25,814.9 469.73,814.28 467.2,813.66 464.68,813.03 462.15,812.4 459.63,811.77 457.1,811.14 454.57,810.5 452.04,809.85 449.51,809.21 446.98,808.56 444.45,807.91 441.91,807.25 439.38,806.59 436.84,805.93 434.31,805.27 431.77,804.61 429.23,803.94 426.69,803.27 424.15,802.6 421.61,801.93 419.07,801.25 416.52,800.58 413.98,799.9 411.44,799.22 408.89,798.54 406.34,797.85 403.8,797.17 401.25,796.49 398.7,795.8 396.15,795.11 393.6,794.43 391.04,793.74 388.49,793.05"/><polyline points="280.39,789.91 285.72,789.98 291.05,790.09 296.38,790.22 301.71,790.37 307.04,790.56 312.37,790.78 317.71,791.02 323.04,791.29 328.38,791.59 333.71,791.92 339.05,792.27 344.38,792.66 349.72,793.08 355.05,793.52 360.39,794 365.72,794.5 371.06,795.04 376.4,795.61 381.73,796.2 387.07,796.83 392.4,797.49 397.74,798.18 403.07,798.9 408.4,799.65 413.74,800.44 419.07,801.25 424.4,802.1 429.73,802.98 435.06,803.89 440.39,804.84 445.71,805.82 451.04,806.83 456.37,807.87 461.69,808.95 467.01,810.06 472.33,811.21 477.65,812.39 482.97,813.6 488.29,814.85 493.6,816.13"/><polyline points="499.5,826.25 497.02,825.5 494.54,824.73 492.07,823.96 489.59,823.19 487.11,822.4 484.62,821.62 482.14,820.82 479.66,820.02 477.17,819.22 474.68,818.41 472.2,817.59 469.71,816.77 467.22,815.94 464.73,815.11 462.23,814.27 459.74,813.43 457.25,812.58 454.75,811.73 452.25,810.87 449.75,810.01 447.25,809.15 444.75,808.28 442.25,807.41 439.75,806.53 437.25,805.65 434.74,804.76 432.24,803.87 429.73,802.98 427.22,802.08 424.71,801.19 422.2,800.28 419.69,799.38 417.18,798.47 414.67,797.56 412.15,796.64 409.64,795.72 407.12,794.8 404.6,793.88 402.08,792.95 399.57,792.03"/><polyline points="274.52,794.03 279.87,793.9 285.23,793.8 290.58,793.73 295.94,793.68 301.3,793.67 306.66,793.67 312.02,793.71 317.39,793.78 322.75,793.87 328.11,793.99 333.48,794.14 338.84,794.31 344.21,794.52 349.57,794.75 354.94,795.02 360.31,795.31 365.68,795.63 371.04,795.99 376.41,796.37 381.78,796.78 387.14,797.22 392.51,797.7 397.88,798.2 403.25,798.74 408.61,799.3 413.98,799.9 419.35,800.53 424.71,801.19 430.08,801.88 435.44,802.6 440.8,803.36 446.17,804.14 451.53,804.96 456.89,805.82 462.25,806.7 467.61,807.62 472.97,808.58 478.33,809.56 483.68,810.58 489.04,811.64"/><polyline points="509.1,833.55 506.66,832.63 504.22,831.69 501.78,830.75 499.34,829.8 496.9,828.84 494.46,827.87 492.02,826.9 489.57,825.91 487.12,824.92 484.68,823.93 482.23,822.92 479.77,821.91 477.32,820.89 474.87,819.87 472.41,818.83 469.96,817.79 467.5,816.75 465.04,815.7 462.58,814.64 460.12,813.57 457.66,812.5 455.19,811.42 452.73,810.34 450.26,809.25 447.8,808.16 445.33,807.06 442.86,805.95 440.39,804.84 437.91,803.72 435.44,802.6 432.97,801.47 430.49,800.34 428.01,799.2 425.54,798.06 423.06,796.92 420.58,795.76 418.1,794.61 415.61,793.45 413.13,792.28 410.64,791.12"/><polyline points="268.65,798.22 274.03,797.89 279.41,797.59 284.8,797.31 290.18,797.06 295.57,796.83 300.95,796.63 306.34,796.46 311.73,796.32 317.12,796.2 322.52,796.11 327.91,796.04 333.31,796.01 338.7,796 344.1,796.02 349.49,796.07 354.89,796.15 360.29,796.25 365.69,796.39 371.09,796.55 376.49,796.75 381.89,796.97 387.29,797.22 392.69,797.51 398.09,797.82 403.49,798.16 408.89,798.54 414.29,798.94 419.69,799.38 425.09,799.84 430.49,800.34 435.89,800.87 441.29,801.43 446.69,802.02 452.09,802.65 457.48,803.31 462.88,804 468.28,804.72 473.67,805.47 479.07,806.26 484.46,807.08"/><polyline points="518.67,841.01 516.28,839.91 513.88,838.81 511.48,837.69 509.08,836.56 506.68,835.43 504.28,834.28 501.87,833.12 499.47,831.96 497.06,830.78 494.65,829.6 492.24,828.41 489.83,827.2 487.41,825.99 485,824.77 482.58,823.54 480.16,822.31 477.74,821.06 475.32,819.81 472.9,818.54 470.48,817.27 468.05,815.99 465.63,814.71 463.2,813.41 460.77,812.11 458.34,810.8 455.91,809.49 453.47,808.16 451.04,806.83 448.6,805.49 446.17,804.14 443.73,802.79 441.29,801.43 438.85,800.06 436.41,798.69 433.96,797.31 431.52,795.92 429.07,794.53 426.63,793.13 424.18,791.73 421.73,790.32"/><polyline points="262.79,802.5 268.19,801.96 273.6,801.45 279.01,800.96 284.42,800.5 289.83,800.06 295.25,799.65 300.67,799.27 306.08,798.91 311.5,798.58 316.92,798.27 322.34,797.99 327.77,797.74 333.19,797.52 338.62,797.32 344.05,797.15 349.47,797.01 354.9,796.9 360.33,796.81 365.76,796.76 371.19,796.73 376.63,796.73 382.06,796.76 387.49,796.82 392.93,796.91 398.36,797.02 403.8,797.17 409.23,797.35 414.67,797.56 420.1,797.79 425.54,798.06 430.97,798.36 436.41,798.69 441.84,799.05 447.28,799.44 452.71,799.87 458.15,800.32 463.58,800.81 469.01,801.33 474.45,801.88 479.88,802.47"/><polyline points="528.23,848.62 525.88,847.36 523.52,846.08 521.16,844.79 518.8,843.48 516.44,842.17 514.08,840.84 511.71,839.5 509.35,838.15 506.98,836.79 504.61,835.42 502.24,834.04 499.86,832.65 497.49,831.24 495.11,829.83 492.74,828.4 490.36,826.96 487.98,825.52 485.59,824.06 483.21,822.59 480.83,821.12 478.44,819.63 476.05,818.13 473.66,816.63 471.27,815.11 468.88,813.58 466.48,812.05 464.09,810.5 461.69,808.95 459.29,807.39 456.89,805.82 454.49,804.24 452.09,802.65 449.68,801.05 447.28,799.44 444.87,797.83 442.46,796.21 440.05,794.58 437.64,792.94 435.23,791.29 432.81,789.64"/><polyline points="256.93,806.85 262.36,806.1 267.8,805.38 273.23,804.68 278.67,804 284.11,803.36 289.55,802.73 294.99,802.13 300.43,801.56 305.88,801.01 311.33,800.49 316.78,799.99 322.23,799.52 327.69,799.08 333.14,798.66 338.6,798.27 344.06,797.91 349.51,797.57 354.98,797.26 360.44,796.98 365.9,796.73 371.36,796.5 376.83,796.3 382.29,796.13 387.76,795.99 393.23,795.88 398.7,795.8 404.17,795.75 409.64,795.72 415.11,795.73 420.58,795.76 426.05,795.83 431.52,795.92 436.99,796.05 442.46,796.21 447.93,796.39 453.4,796.61 458.88,796.86 464.35,797.14 469.82,797.46 475.29,797.8"/><polyline points="537.77,856.4 535.45,854.96 533.14,853.51 530.82,852.04 528.5,850.56 526.18,849.07 523.86,847.56 521.53,846.04 519.21,844.51 516.88,842.96 514.55,841.4 512.22,839.82 509.89,838.24 507.55,836.64 505.21,835.03 502.88,833.41 500.54,831.77 498.2,830.12 495.85,828.46 493.51,826.79 491.16,825.1 488.81,823.41 486.46,821.7 484.11,819.98 481.76,818.25 479.41,816.5 477.05,814.75 474.69,812.98 472.33,811.21 469.97,809.42 467.61,807.62 465.25,805.81 462.88,804 460.51,802.17 458.15,800.32 455.78,798.47 453.4,796.61 451.03,794.74 448.66,792.86 446.28,790.97 443.9,789.07"/><polyline points="251.08,811.28 256.54,810.32 262,809.38 267.45,808.47 272.92,807.58 278.38,806.71 283.85,805.87 289.32,805.06 294.79,804.26 300.26,803.5 305.74,802.75 311.22,802.04 316.7,801.34 322.18,800.68 327.66,800.04 333.15,799.42 338.64,798.83 344.13,798.27 349.62,797.73 355.11,797.22 360.6,796.74 366.1,796.29 371.6,795.86 377.09,795.46 382.59,795.09 388.09,794.74 393.6,794.43 399.1,794.14 404.6,793.88 410.11,793.65 415.61,793.45 421.12,793.28 426.63,793.13 432.13,793.02 437.64,792.94 443.15,792.88 448.66,792.86 454.17,792.87 459.68,792.91 465.18,792.98 470.69,793.08"/><polyline points="547.28,864.33 545,862.72 542.73,861.1 540.45,859.46 538.18,857.8 535.9,856.12 533.62,854.44 531.33,852.73 529.05,851.01 526.76,849.28 524.47,847.53 522.18,845.76 519.89,843.99 517.6,842.19 515.3,840.38 513,838.56 510.7,836.72 508.4,834.87 506.1,833.01 503.79,831.13 501.49,829.23 499.18,827.33 496.87,825.41 494.56,823.47 492.24,821.52 489.93,819.56 487.61,817.59 485.29,815.6 482.97,813.6 480.65,811.59 478.33,809.56 476,807.52 473.67,805.47 471.34,803.41 469.01,801.33 466.68,799.24 464.35,797.14 462.01,795.03 459.68,792.91 457.34,790.77 455,788.62"/><polyline points="245.24,815.79 250.72,814.61 256.2,813.46 261.68,812.33 267.17,811.22 272.66,810.14 278.15,809.08 283.65,808.04 289.15,807.03 294.65,806.04 300.15,805.07 305.66,804.13 311.16,803.21 316.67,802.32 322.19,801.45 327.7,800.61 333.22,799.79 338.74,799 344.26,798.23 349.78,797.49 355.31,796.77 360.83,796.09 366.36,795.43 371.89,794.79 377.42,794.18 382.96,793.6 388.49,793.05 394.03,792.52 399.57,792.03 405.1,791.56 410.64,791.12 416.19,790.7 421.73,790.32 427.27,789.96 432.81,789.64 438.36,789.34 443.9,789.07 449.45,788.83 455,788.62 460.54,788.45 466.09,788.3"/><polyline points="556.76,872.43 554.53,870.65 552.3,868.85 550.07,867.03 547.83,865.2 545.6,863.34 543.36,861.47 541.12,859.58 538.87,857.68 536.63,855.75 534.38,853.82 532.13,851.86 529.88,849.89 527.63,847.9 525.37,845.89 523.12,843.87 520.86,841.83 518.6,839.77 516.33,837.7 514.07,835.62 511.8,833.51 509.53,831.39 507.26,829.26 504.99,827.11 502.72,824.94 500.44,822.76 498.16,820.57 495.89,818.36 493.6,816.13 491.32,813.89 489.04,811.64 486.75,809.37 484.46,807.08 482.17,804.78 479.88,802.47 477.59,800.14 475.29,797.8 472.99,795.45 470.69,793.08 468.39,790.69 466.09,788.3"/></g>
<g class="dt"><circle cx="248.4" cy="965.2" r="1.1"/><circle cx="555.2" cy="939.5" r="1.1"/><circle cx="302.35" cy="973.23" r="1.1"/><circle cx="532.45" cy="953.95" r="1.1"/><circle cx="356.3" cy="981.25" r="1.1"/><circle cx="509.7" cy="968.4" r="1.1"/><circle cx="410.25" cy="989.27" r="1.1"/><circle cx="486.95" cy="982.85" r="1.1"/><circle cx="464.2" cy="997.3" r="1.1"/><circle cx="464.2" cy="997.3" r="1.1"/></g>
<g class="pt"><circle cx="245" cy="810" r="2.9"/><circle cx="362.6" cy="717" r="2.9"/><circle cx="557.1" cy="848.1" r="2.9"/><circle cx="466" cy="781.2" r="2.9"/><circle cx="408" cy="790.3" r="2.9"/><circle cx="408" cy="802.3" r="2.9"/><circle cx="408" cy="808.8" r="2.9"/></g>
<g class="tk" font-size="11.3"><text transform="translate(237.27 727.07) scale(1.02 1.05)" text-anchor="end">6</text><text transform="translate(237.91 756.97) scale(1.02 1.05)" text-anchor="end">5</text><text transform="translate(238.54 786.87) scale(1.02 1.05)" text-anchor="end">4</text><text transform="translate(239.17 816.77) scale(1.02 1.05)" text-anchor="end">3</text><text transform="translate(239.8 846.67) scale(1.02 1.05)" text-anchor="end">2</text><text transform="translate(240.44 876.57) scale(1.02 1.05)" text-anchor="end">1</text><text transform="translate(241.07 906.47) scale(1.02 1.05)" text-anchor="end">0</text><text transform="translate(249.4 979.27) scale(1.02 1.05)" text-anchor="end">-1</text><text transform="translate(559.7 949.17) scale(1.02 1.05)" text-anchor="start">-1</text><text transform="translate(303.35 987.3) scale(1.02 1.05)" text-anchor="end">-0.5</text><text transform="translate(536.95 963.62) scale(1.02 1.05)" text-anchor="start">-0.5</text><text transform="translate(357.3 995.32) scale(1.02 1.05)" text-anchor="end">0</text><text transform="translate(514.2 978.07) scale(1.02 1.05)" text-anchor="start">0</text><text transform="translate(411.25 1003.35) scale(1.02 1.05)" text-anchor="end">0.5</text><text transform="translate(491.45 992.52) scale(1.02 1.05)" text-anchor="start">0.5</text><text transform="translate(465.2 1011.37) scale(1.02 1.05)" text-anchor="end">1</text><text transform="translate(468.7 1006.97) scale(1.02 1.05)" text-anchor="start">1</text></g>
<g class="tt"><text transform="translate(212.1 828.4) rotate(-90) scale(1 1.03)" text-anchor="middle" font-size="13.6">a Value</text><text transform="translate(334 1016.8) rotate(8.56) scale(1 1.03)" text-anchor="middle" font-size="13.7">B: Blanching Time (Min)</text><text transform="translate(533.23 993.32) rotate(-33.9) scale(1 1.03)" text-anchor="middle" font-size="13.7">A: Blanching Temp. (C)</text></g>
<text class="pn" x="209.5" y="730">e</text>
</g>
</svg>
</body></html>
